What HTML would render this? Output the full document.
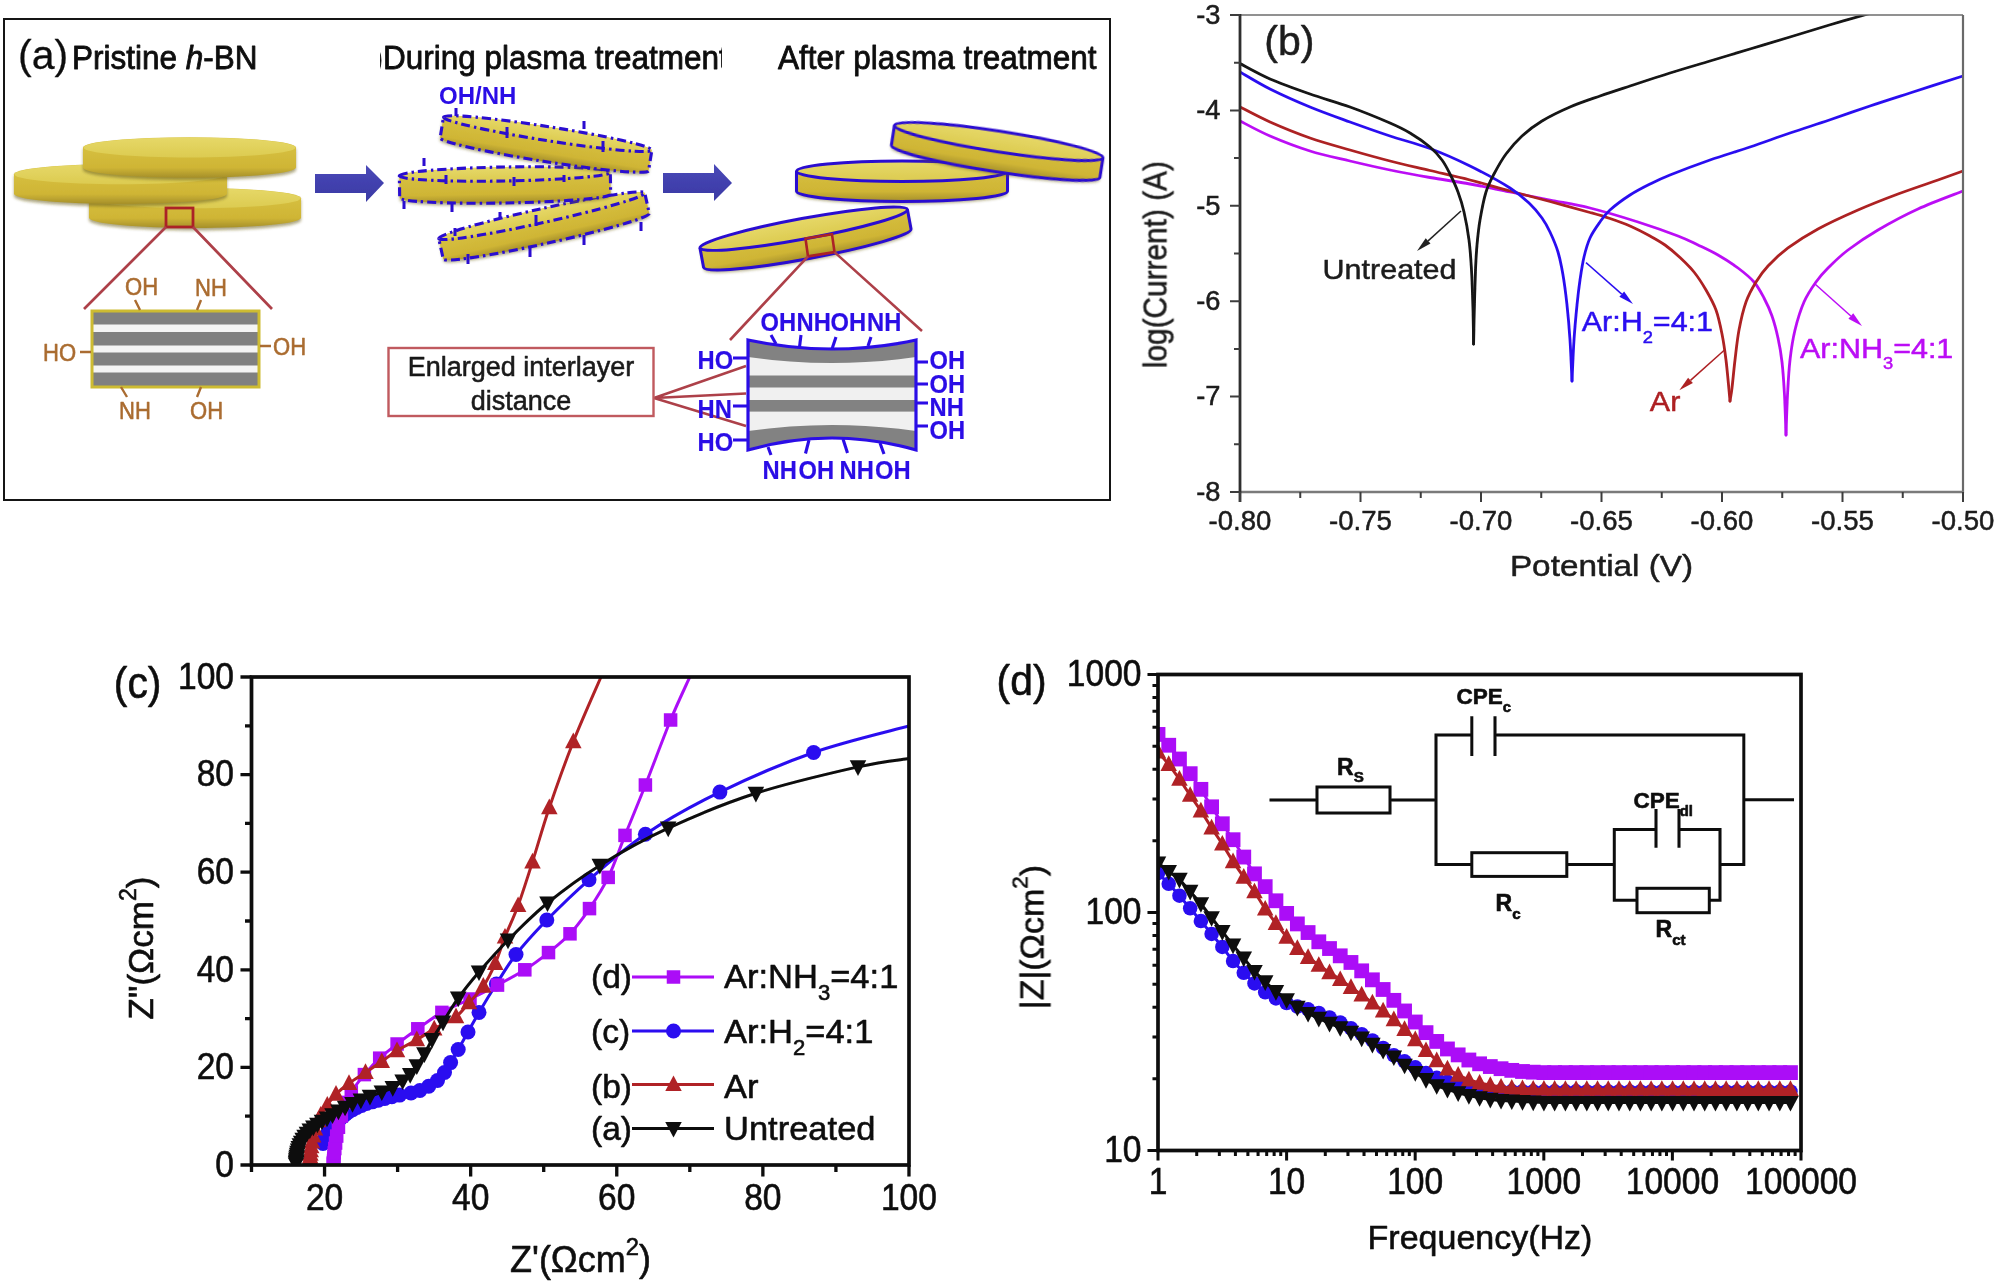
<!DOCTYPE html>
<html lang="en"><head><meta charset="utf-8"><title>Plasma treated h-BN figure</title>
<style>html,body{margin:0;padding:0;background:#fff}svg{display:block}text{font-family:'Liberation Sans', Arial, Helvetica, sans-serif}</style></head><body>
<svg width="1998" height="1283" viewBox="0 0 1998 1283">
<rect width="1998" height="1283" fill="#fff"/>
<defs>
<linearGradient id="gside" x1="0" y1="0" x2="0" y2="1">
<stop offset="0" stop-color="#d9c444"/><stop offset="0.75" stop-color="#cfb535"/><stop offset="1" stop-color="#a58f2a"/>
</linearGradient>
<linearGradient id="gtop" x1="0" y1="0" x2="0" y2="1">
<stop offset="0" stop-color="#e6d868"/><stop offset="1" stop-color="#dccb50"/>
</linearGradient>
<linearGradient id="garrow" x1="0" y1="0" x2="0" y2="1">
<stop offset="0" stop-color="#4a49b8"/><stop offset="1" stop-color="#3a39a4"/>
</linearGradient>
<filter id="soft" x="-5%" y="-5%" width="110%" height="110%"><feGaussianBlur stdDeviation="0.6"/></filter>
<filter id="soft2" x="-5%" y="-5%" width="110%" height="110%"><feGaussianBlur stdDeviation="0.45"/></filter>
<filter id="shadow" x="-10%" y="-30%" width="120%" height="180%"><feGaussianBlur stdDeviation="1.6"/></filter>
</defs>
<g id="panelA">
<rect x="4" y="19" width="1106" height="481" fill="#fff" stroke="#151515" stroke-width="2"/>
<g filter="url(#soft)">
<g transform="rotate(0 195 208)">
<path d="M89 198.25A106 10.3 0 0 1 301 198.25L301 217.75A106 10.3 0 0 1 89 217.75Z" transform="translate(0 2.5)" fill="#6b5e1c" opacity="0.55" filter="url(#shadow)"/>
<path d="M89 198.25A106 10.3 0 0 1 301 198.25L301 217.75A106 10.3 0 0 1 89 217.75Z" fill="url(#gside)"/>
<ellipse cx="195" cy="198.25" rx="105.5" ry="10" fill="url(#gtop)"/>
</g>
<g transform="rotate(0 120.5 184)">
<path d="M14 174.25A106.5 10.3 0 0 1 227 174.25L227 193.75A106.5 10.3 0 0 1 14 193.75Z" transform="translate(0 2.5)" fill="#6b5e1c" opacity="0.55" filter="url(#shadow)"/>
<path d="M14 174.25A106.5 10.3 0 0 1 227 174.25L227 193.75A106.5 10.3 0 0 1 14 193.75Z" fill="url(#gside)"/>
<ellipse cx="120.5" cy="174.25" rx="106" ry="10" fill="url(#gtop)"/>
</g>
<g transform="rotate(0 189.5 157.5)">
<path d="M83 147.5A106.5 10.3 0 0 1 296 147.5L296 167.5A106.5 10.3 0 0 1 83 167.5Z" transform="translate(0 2.5)" fill="#6b5e1c" opacity="0.55" filter="url(#shadow)"/>
<path d="M83 147.5A106.5 10.3 0 0 1 296 147.5L296 167.5A106.5 10.3 0 0 1 83 167.5Z" fill="url(#gside)"/>
<ellipse cx="189.5" cy="147.5" rx="106" ry="10" fill="url(#gtop)"/>
</g>
<rect x="166" y="208" width="27" height="19" fill="none" stroke="#ab2328" stroke-width="2.8"/>
<path d="M166 227L84 309M193 227L272 309" stroke="#ad4048" stroke-width="2.7" fill="none"/>
<rect x="92" y="311" width="167" height="76" fill="#808080"/>
<rect x="93" y="324.5" width="165" height="7.5" fill="#f4f4f4"/>
<rect x="93" y="345.5" width="165" height="7" fill="#f4f4f4"/>
<rect x="93" y="365.5" width="165" height="7" fill="#f4f4f4"/>
<rect x="92" y="311" width="167" height="76" fill="none" stroke="#cdbb30" stroke-width="3"/>
<path d="M135 300L140 310M201 300L197 310M80 352L91 352M260 346L271 346M121 387L127 397M201 387L197 397" stroke="#aa6c30" stroke-width="2.4" fill="none"/>
<text transform="translate(125 295) scale(0.92 1)" font-size="24" fill="#aa6c30" text-anchor="start" font-weight="normal"  stroke="#aa6c30" stroke-width="0.55" stroke-linejoin="round">OH</text>
<text transform="translate(195 296) scale(0.92 1)" font-size="24" fill="#aa6c30" text-anchor="start" font-weight="normal"  stroke="#aa6c30" stroke-width="0.55" stroke-linejoin="round">NH</text>
<text transform="translate(43 361) scale(0.92 1)" font-size="24" fill="#aa6c30" text-anchor="start" font-weight="normal"  stroke="#aa6c30" stroke-width="0.55" stroke-linejoin="round">HO</text>
<text transform="translate(273 355) scale(0.92 1)" font-size="24" fill="#aa6c30" text-anchor="start" font-weight="normal"  stroke="#aa6c30" stroke-width="0.55" stroke-linejoin="round">OH</text>
<text transform="translate(119 419) scale(0.92 1)" font-size="24" fill="#aa6c30" text-anchor="start" font-weight="normal"  stroke="#aa6c30" stroke-width="0.55" stroke-linejoin="round">NH</text>
<text transform="translate(190 419) scale(0.92 1)" font-size="24" fill="#aa6c30" text-anchor="start" font-weight="normal"  stroke="#aa6c30" stroke-width="0.55" stroke-linejoin="round">OH</text>
<polygon points="315,174 366,174 366,165 384,183 366,202 366,193 315,193" fill="url(#garrow)"/>
<polygon points="663,173 714,173 714,164 732,183 714,201 714,193 663,193" fill="url(#garrow)"/>
<g transform="rotate(-12.5 544 226)">
<path d="M438.5 215.5A105.5 7 0 0 1 649.5 215.5L649.5 236.5A105.5 7 0 0 1 438.5 236.5Z" transform="translate(0 2.5)" fill="#6b5e1c" opacity="0.55" filter="url(#shadow)"/>
<path d="M438.5 215.5A105.5 7 0 0 1 649.5 215.5L649.5 236.5A105.5 7 0 0 1 438.5 236.5Z" fill="url(#gside)"/>
<ellipse cx="544" cy="215.5" rx="105" ry="6.7" fill="url(#gtop)"/>
<path d="M438.5 215.5A105.5 7 0 0 1 649.5 215.5L649.5 236.5A105.5 7 0 0 1 438.5 236.5Z" fill="none" stroke="#2a0cd0" stroke-width="3.1" stroke-dasharray="9 4 2.5 4" stroke-linejoin="round"/>
<path d="M438.5 215.5A105.5 7 0 0 0 649.5 215.5" fill="none" stroke="#2a0cd0" stroke-width="3.1" stroke-dasharray="9 4 2.5 4"/>
</g>
<g transform="rotate(-1 505 185)">
<path d="M399.5 174A105.5 7 0 0 1 610.5 174L610.5 196A105.5 7 0 0 1 399.5 196Z" transform="translate(0 2.5)" fill="#6b5e1c" opacity="0.55" filter="url(#shadow)"/>
<path d="M399.5 174A105.5 7 0 0 1 610.5 174L610.5 196A105.5 7 0 0 1 399.5 196Z" fill="url(#gside)"/>
<ellipse cx="505" cy="174" rx="105" ry="6.7" fill="url(#gtop)"/>
<path d="M399.5 174A105.5 7 0 0 1 610.5 174L610.5 196A105.5 7 0 0 1 399.5 196Z" fill="none" stroke="#2a0cd0" stroke-width="3.1" stroke-dasharray="9 4 2.5 4" stroke-linejoin="round"/>
<path d="M399.5 174A105.5 7 0 0 0 610.5 174" fill="none" stroke="#2a0cd0" stroke-width="3.1" stroke-dasharray="9 4 2.5 4"/>
</g>
<g transform="rotate(9 546 144)">
<path d="M440.5 133.5A105.5 7 0 0 1 651.5 133.5L651.5 154.5A105.5 7 0 0 1 440.5 154.5Z" transform="translate(0 2.5)" fill="#6b5e1c" opacity="0.55" filter="url(#shadow)"/>
<path d="M440.5 133.5A105.5 7 0 0 1 651.5 133.5L651.5 154.5A105.5 7 0 0 1 440.5 154.5Z" fill="url(#gside)"/>
<ellipse cx="546" cy="133.5" rx="105" ry="6.7" fill="url(#gtop)"/>
<path d="M440.5 133.5A105.5 7 0 0 1 651.5 133.5L651.5 154.5A105.5 7 0 0 1 440.5 154.5Z" fill="none" stroke="#2a0cd0" stroke-width="3.1" stroke-dasharray="9 4 2.5 4" stroke-linejoin="round"/>
<path d="M440.5 133.5A105.5 7 0 0 0 651.5 133.5" fill="none" stroke="#2a0cd0" stroke-width="3.1" stroke-dasharray="9 4 2.5 4"/>
</g>
<path d="M456 108L456 116M584 121L584 129M507 127L507 138M603 141L603 152M424 158L424 166M446 175L446 184M514 177L514 186M564 175L564 182M404 201L404 209M452 203L452 212M500 212L500 219M536 215L536 226M455 228L455 236M468 254L468 264M530 247L530 257M584 235L584 245M641 222L641 231" stroke="#2a0cd0" stroke-width="3" fill="none"/>
<text transform="translate(439 104) scale(0.98 1)" font-size="24.5" fill="#2c0ce6" text-anchor="start" font-weight="bold" >OH/NH</text>
<g transform="rotate(-10.5 805.5 238.5)">
<path d="M700 228.5A105.5 10.3 0 0 1 911 228.5L911 248.5A105.5 10.3 0 0 1 700 248.5Z" transform="translate(0 2.5)" fill="#6b5e1c" opacity="0.55" filter="url(#shadow)"/>
<path d="M700 228.5A105.5 10.3 0 0 1 911 228.5L911 248.5A105.5 10.3 0 0 1 700 248.5Z" fill="url(#gside)"/>
<ellipse cx="805.5" cy="228.5" rx="105" ry="10" fill="url(#gtop)"/>
<path d="M700 228.5A105.5 10.3 0 0 1 911 228.5L911 248.5A105.5 10.3 0 0 1 700 248.5Z" fill="none" stroke="#2a0cd0" stroke-width="3" stroke-linejoin="round"/>
<path d="M700 228.5A105.5 10.3 0 0 0 911 228.5" fill="none" stroke="#2a0cd0" stroke-width="3"/>
</g>
<g transform="rotate(0 902 181.2)">
<path d="M796.5 171.2A105.5 10.3 0 0 1 1007.5 171.2L1007.5 191.2A105.5 10.3 0 0 1 796.5 191.2Z" transform="translate(0 2.5)" fill="#6b5e1c" opacity="0.55" filter="url(#shadow)"/>
<path d="M796.5 171.2A105.5 10.3 0 0 1 1007.5 171.2L1007.5 191.2A105.5 10.3 0 0 1 796.5 191.2Z" fill="url(#gside)"/>
<ellipse cx="902" cy="171.2" rx="105" ry="10" fill="url(#gtop)"/>
<path d="M796.5 171.2A105.5 10.3 0 0 1 1007.5 171.2L1007.5 191.2A105.5 10.3 0 0 1 796.5 191.2Z" fill="none" stroke="#2a0cd0" stroke-width="3" stroke-linejoin="round"/>
<path d="M796.5 171.2A105.5 10.3 0 0 0 1007.5 171.2" fill="none" stroke="#2a0cd0" stroke-width="3"/>
</g>
<g transform="rotate(8.8 997.2 151.4)">
<path d="M891.7 141.4A105.5 10.3 0 0 1 1102.7 141.4L1102.7 161.4A105.5 10.3 0 0 1 891.7 161.4Z" transform="translate(0 2.5)" fill="#6b5e1c" opacity="0.55" filter="url(#shadow)"/>
<path d="M891.7 141.4A105.5 10.3 0 0 1 1102.7 141.4L1102.7 161.4A105.5 10.3 0 0 1 891.7 161.4Z" fill="url(#gside)"/>
<ellipse cx="997.2" cy="141.4" rx="105" ry="10" fill="url(#gtop)"/>
<path d="M891.7 141.4A105.5 10.3 0 0 1 1102.7 141.4L1102.7 161.4A105.5 10.3 0 0 1 891.7 161.4Z" fill="none" stroke="#2a0cd0" stroke-width="3" stroke-linejoin="round"/>
<path d="M891.7 141.4A105.5 10.3 0 0 0 1102.7 141.4" fill="none" stroke="#2a0cd0" stroke-width="3"/>
</g>
<polygon points="805.5,238.5 832,234.2 834.5,252.1 808,256.4" fill="none" stroke="#ab2328" stroke-width="2.6"/>
<path d="M808 256.4L730 340M834.5 252.1L922 331" stroke="#ad4048" stroke-width="2.6" fill="none"/>
<path d="M654 398L746 366M654 398L746 393.5M654 398L746 426" stroke="#ad4048" stroke-width="2.4" fill="none"/>
<rect x="388.5" y="348" width="265" height="68" fill="#fff" stroke="#c05a5e" stroke-width="2.4"/>
<text transform="translate(521 375.5)" font-size="27" fill="#1a1a1a" text-anchor="middle" font-weight="normal"  stroke="#1a1a1a" stroke-width="0.55" stroke-linejoin="round">Enlarged interlayer</text>
<text transform="translate(521 409.5)" font-size="27" fill="#1a1a1a" text-anchor="middle" font-weight="normal"  stroke="#1a1a1a" stroke-width="0.55" stroke-linejoin="round">distance</text>
<clipPath id="clipE"><path d="M748 340Q832 358 916 340L916 450Q832 426 748 450Z"/></clipPath>
<g clip-path="url(#clipE)">
<rect x="740" y="330" width="185" height="130" fill="#f0f0f0"/>
<path d="M748 326Q832 358 916 326L916 357Q832 369 748 357Z" fill="#828282"/>
<path d="M748 464Q832 426 916 464L916 431Q832 419 748 431Z" fill="#828282"/>
<rect x="740" y="375.5" width="185" height="12" fill="#828282"/>
<rect x="740" y="400" width="185" height="11.6" fill="#828282"/>
</g>
<path d="M748 340Q832 358 916 340L916 450Q832 426 748 450Z" fill="none" stroke="#2c0ce6" stroke-width="3.2" stroke-linejoin="miter"/>
<path d="M771 335L776 344M801 335L799.5 347M836 337L832 349M871 337L868 346M768 447L771 455M809 440L805.5 453.5M843 439L847.5 453M880 443L884 454M733 358L748 358M733 406L748 406M733 440L748 440M916 362L928 362M916 384L928 384M916 403L928 403M916 426L928 426" stroke="#2c0ce6" stroke-width="3.1" fill="none"/>
<text transform="translate(760.5 331.3) scale(0.95 1)" font-size="25" fill="#2c0ce6" text-anchor="start" font-weight="bold"  stroke="#2c0ce6" stroke-width="0.2" stroke-linejoin="round">OH</text>
<text transform="translate(796.5 331.3) scale(0.95 1)" font-size="25" fill="#2c0ce6" text-anchor="start" font-weight="bold"  stroke="#2c0ce6" stroke-width="0.2" stroke-linejoin="round">NH</text>
<text transform="translate(830.5 331.3) scale(0.95 1)" font-size="25" fill="#2c0ce6" text-anchor="start" font-weight="bold"  stroke="#2c0ce6" stroke-width="0.2" stroke-linejoin="round">OH</text>
<text transform="translate(867 331.3) scale(0.95 1)" font-size="25" fill="#2c0ce6" text-anchor="start" font-weight="bold"  stroke="#2c0ce6" stroke-width="0.2" stroke-linejoin="round">NH</text>
<text transform="translate(762.5 479.3) scale(0.95 1)" font-size="25" fill="#2c0ce6" text-anchor="start" font-weight="bold"  stroke="#2c0ce6" stroke-width="0.2" stroke-linejoin="round">NH</text>
<text transform="translate(798.5 479.3) scale(0.95 1)" font-size="25" fill="#2c0ce6" text-anchor="start" font-weight="bold"  stroke="#2c0ce6" stroke-width="0.2" stroke-linejoin="round">OH</text>
<text transform="translate(839.5 479.3) scale(0.95 1)" font-size="25" fill="#2c0ce6" text-anchor="start" font-weight="bold"  stroke="#2c0ce6" stroke-width="0.2" stroke-linejoin="round">NH</text>
<text transform="translate(875 479.3) scale(0.95 1)" font-size="25" fill="#2c0ce6" text-anchor="start" font-weight="bold"  stroke="#2c0ce6" stroke-width="0.2" stroke-linejoin="round">OH</text>
<text transform="translate(697.5 368.8) scale(0.95 1)" font-size="25" fill="#2c0ce6" text-anchor="start" font-weight="bold"  stroke="#2c0ce6" stroke-width="0.2" stroke-linejoin="round">HO</text>
<text transform="translate(697.5 418.3) scale(0.95 1)" font-size="25" fill="#2c0ce6" text-anchor="start" font-weight="bold"  stroke="#2c0ce6" stroke-width="0.2" stroke-linejoin="round">HN</text>
<text transform="translate(697.5 450.8) scale(0.95 1)" font-size="25" fill="#2c0ce6" text-anchor="start" font-weight="bold"  stroke="#2c0ce6" stroke-width="0.2" stroke-linejoin="round">HO</text>
<text transform="translate(929.5 369.3) scale(0.95 1)" font-size="25" fill="#2c0ce6" text-anchor="start" font-weight="bold"  stroke="#2c0ce6" stroke-width="0.2" stroke-linejoin="round">OH</text>
<text transform="translate(929.5 393.3) scale(0.95 1)" font-size="25" fill="#2c0ce6" text-anchor="start" font-weight="bold"  stroke="#2c0ce6" stroke-width="0.2" stroke-linejoin="round">OH</text>
<text transform="translate(929.5 415.8) scale(0.95 1)" font-size="25" fill="#2c0ce6" text-anchor="start" font-weight="bold"  stroke="#2c0ce6" stroke-width="0.2" stroke-linejoin="round">NH</text>
<text transform="translate(929.5 439.3) scale(0.95 1)" font-size="25" fill="#2c0ce6" text-anchor="start" font-weight="bold"  stroke="#2c0ce6" stroke-width="0.2" stroke-linejoin="round">OH</text>
</g>
<g filter="url(#soft2)">
<text transform="translate(18 69)" font-size="41" fill="#111" text-anchor="start" font-weight="normal"  stroke="#111" stroke-width="0.3" stroke-linejoin="round">(a)</text>
<text transform="translate(72 69) scale(0.94 1)" font-size="33.5" fill="#111" text-anchor="start" font-weight="normal"  stroke="#111" stroke-width="0.85" stroke-linejoin="round">Pristine <tspan font-style="italic">h</tspan>-BN</text>
<clipPath id="clipT"><rect x="380" y="30" width="342" height="60"/></clipPath>
<g clip-path="url(#clipT)">
<text transform="translate(372.5 69) scale(0.94 1)" font-size="33.5" fill="#111" text-anchor="start" font-weight="normal"  stroke="#111" stroke-width="0.85" stroke-linejoin="round">)During plasma treatment</text>
</g>
<text transform="translate(778 69) scale(0.94 1)" font-size="33.5" fill="#111" text-anchor="start" font-weight="normal"  stroke="#111" stroke-width="0.85" stroke-linejoin="round">After plasma treatment</text>
</g>
</g>
<g id="panelB" filter="url(#soft2)">
<clipPath id="clipB"><rect x="1240" y="15" width="724" height="477"/></clipPath>
<g clip-path="url(#clipB)" fill="none" stroke-width="2.8" stroke-linejoin="round" stroke-linecap="round">
<path d="M1240 121C1245 123.5 1258.33 131 1270 136C1281.67 141 1296.67 146.83 1310 151C1323.33 155.17 1336.67 157.83 1350 161C1363.33 164.17 1376.67 167.25 1390 170C1403.33 172.75 1416.67 175.17 1430 177.5C1443.33 179.83 1456.67 181.58 1470 184C1483.33 186.42 1496.67 189.33 1510 192C1523.33 194.67 1536.67 197.33 1550 200C1563.33 202.67 1575.33 204.33 1590 208C1604.67 211.67 1623.33 217.33 1638 222C1652.67 226.67 1668 232.17 1678 236C1688 239.83 1691.33 241.83 1698 245C1704.67 248.17 1711.33 251.17 1718 255C1724.67 258.83 1732 263.5 1738 268C1744 272.5 1749.67 277 1754 282C1758.33 287 1761 292.33 1764 298C1767 303.67 1769.67 309.33 1772 316C1774.33 322.67 1776.33 330.33 1778 338C1779.67 345.67 1780.92 352.5 1782 362C1783.08 371.5 1783.83 382.83 1784.5 395C1785.17 407.17 1785.75 428.33 1786 435" stroke="#bb0cf5"/>
<path d="M1786 435C1786.25 428.33 1786.83 407.5 1787.5 395C1788.17 382.5 1788.75 370.83 1790 360C1791.25 349.17 1792.67 339.67 1795 330C1797.33 320.33 1800.5 310 1804 302C1807.5 294 1812 287.67 1816 282C1820 276.33 1822.67 273.33 1828 268C1833.33 262.67 1839.67 256.33 1848 250C1856.33 243.67 1866.33 236.83 1878 230C1889.67 223.17 1903.83 215.5 1918 209C1932.17 202.5 1955.5 194 1963 191" stroke="#bb0cf5"/>
<path d="M1240 107C1245 109.5 1258.33 116.83 1270 122C1281.67 127.17 1296.67 133.33 1310 138C1323.33 142.67 1336.67 146.17 1350 150C1363.33 153.83 1376.67 157.58 1390 161C1403.33 164.42 1416.67 167.33 1430 170.5C1443.33 173.67 1456.67 176.58 1470 180C1483.33 183.42 1496.67 187.42 1510 191C1523.33 194.58 1536.67 197.92 1550 201.5C1563.33 205.08 1580 209.67 1590 212.5C1600 215.33 1603.33 216.25 1610 218.5C1616.67 220.75 1623.33 223.08 1630 226C1636.67 228.92 1644.17 232.83 1650 236C1655.83 239.17 1660 241.42 1665 245C1670 248.58 1675.17 253 1680 257.5C1684.83 262 1689.67 266.58 1694 272C1698.33 277.42 1702.33 283.67 1706 290C1709.67 296.33 1713.33 302.67 1716 310C1718.67 317.33 1720.33 325.67 1722 334C1723.67 342.33 1724.83 350.67 1726 360C1727.17 369.33 1728.33 383.17 1729 390C1729.67 396.83 1729.83 399.17 1730 401" stroke="#ad2024"/>
<path d="M1730 401C1730.33 398.83 1731.17 394.83 1732 388C1732.83 381.17 1733.83 369.67 1735 360C1736.17 350.33 1737.17 339.67 1739 330C1740.83 320.33 1743.17 310 1746 302C1748.83 294 1752.33 288 1756 282C1759.67 276 1762.67 271.67 1768 266C1773.33 260.33 1779.67 254.17 1788 248C1796.33 241.83 1806.33 235.33 1818 229C1829.67 222.67 1844.67 215.83 1858 210C1871.33 204.17 1884.67 199 1898 194C1911.33 189 1927.17 183.83 1938 180C1948.83 176.17 1958.83 172.5 1963 171" stroke="#ad2024"/>
<path d="M1240 72C1245 74.83 1258.33 83.17 1270 89C1281.67 94.83 1296.67 101.5 1310 107C1323.33 112.5 1336.67 117.17 1350 122C1363.33 126.83 1376.67 131.58 1390 136C1403.33 140.42 1416.67 143.5 1430 148.5C1443.33 153.5 1456.67 159.42 1470 166C1483.33 172.58 1500 181.67 1510 188C1520 194.33 1524.67 199 1530 204C1535.33 209 1538.67 213.33 1542 218C1545.33 222.67 1547.33 226.33 1550 232C1552.67 237.67 1555.83 244.83 1558 252C1560.17 259.17 1561.5 266.17 1563 275C1564.5 283.83 1565.83 294.17 1567 305C1568.17 315.83 1569.17 327.33 1570 340C1570.83 352.67 1571.67 374.17 1572 381" stroke="#2a10f0"/>
<path d="M1572 381C1572.33 374.17 1573.17 352.67 1574 340C1574.83 327.33 1576 315 1577 305C1578 295 1578.83 288 1580 280C1581.17 272 1582.33 264 1584 257C1585.67 250 1587.33 243.83 1590 238C1592.67 232.17 1596.67 226.67 1600 222C1603.33 217.33 1605 214.5 1610 210C1615 205.5 1623.33 199.33 1630 195C1636.67 190.67 1643.33 187.33 1650 184C1656.67 180.67 1660 179 1670 175C1680 171 1696.67 164.67 1710 160C1723.33 155.33 1736.67 151.5 1750 147C1763.33 142.5 1776.77 137.5 1790 133C1803.23 128.5 1816.07 124.5 1829.4 120C1842.73 115.5 1856.57 110.5 1870 106C1883.43 101.5 1894.5 98 1910 93C1925.5 88 1954.17 78.83 1963 76" stroke="#2a10f0"/>
<path d="M1240 63.6C1245 66.17 1258.33 73.93 1270 79C1281.67 84.07 1296.67 89.33 1310 94C1323.33 98.67 1336.67 102.17 1350 107C1363.33 111.83 1380 118.67 1390 123C1400 127.33 1403.33 129 1410 133C1416.67 137 1424.67 142.5 1430 147C1435.33 151.5 1438.67 155.5 1442 160C1445.33 164.5 1447.33 168.67 1450 174C1452.67 179.33 1455.67 185.67 1458 192C1460.33 198.33 1462.17 204 1464 212C1465.83 220 1467.75 230.33 1469 240C1470.25 249.67 1470.83 258.33 1471.5 270C1472.17 281.67 1472.65 297.67 1473 310C1473.35 322.33 1473.5 338.33 1473.6 344" stroke="#141414"/>
<path d="M1473.6 344C1473.72 338.33 1473.98 322.33 1474.3 310C1474.62 297.67 1475.05 280.83 1475.5 270C1475.95 259.17 1476.25 253.33 1477 245C1477.75 236.67 1478.5 228.83 1480 220C1481.5 211.17 1483.67 199.67 1486 192C1488.33 184.33 1490.67 180.33 1494 174C1497.33 167.67 1501.33 160.33 1506 154C1510.67 147.67 1516 141.5 1522 136C1528 130.5 1534 125.83 1542 121C1550 116.17 1560.33 111.17 1570 107C1579.67 102.83 1590 99.5 1600 96C1610 92.5 1618.33 89.83 1630 86C1641.67 82.17 1656.67 77.17 1670 73C1683.33 68.83 1696.67 65 1710 61C1723.33 57 1736.67 53 1750 49C1763.33 45 1776.77 41 1790 37C1803.23 33 1816.4 28.83 1829.4 25C1842.4 21.17 1861.57 15.83 1868 14" stroke="#141414"/>
</g>
<path d="M1240 15H1963" fill="none" stroke="#6e6e6e" stroke-width="1.6"/>
<path d="M1963 15V493" fill="none" stroke="#6a6a6a" stroke-width="2.2"/>
<path d="M1240 492H1964" fill="none" stroke="#7a7a7a" stroke-width="2.4"/>
<path d="M1240 14V502" fill="none" stroke="#2e2e2e" stroke-width="2.8"/>
<path d="M1230 15H1240M1234 62.7H1240M1230 110.4H1240M1234 158.1H1240M1230 205.8H1240M1234 253.5H1240M1230 301.2H1240M1234 348.9H1240M1230 396.6H1240M1234 444.3H1240M1230 492H1240M1240 492V502M1300.25 492V498M1360.5 492V502M1420.75 492V498M1481 492V502M1541.25 492V498M1601.5 492V502M1661.75 492V498M1722 492V502M1782.25 492V498M1842.5 492V502M1902.75 492V498M1963 492V502" fill="none" stroke="#3c3c3c" stroke-width="2"/>
<text transform="translate(1220.5 23.8) scale(1.01 1)" font-size="27" fill="#1c1c1c" text-anchor="end" font-weight="normal"  stroke="#1c1c1c" stroke-width="0.5" stroke-linejoin="round">-3</text>
<text transform="translate(1220.5 119.2) scale(1.01 1)" font-size="27" fill="#1c1c1c" text-anchor="end" font-weight="normal"  stroke="#1c1c1c" stroke-width="0.5" stroke-linejoin="round">-4</text>
<text transform="translate(1220.5 214.6) scale(1.01 1)" font-size="27" fill="#1c1c1c" text-anchor="end" font-weight="normal"  stroke="#1c1c1c" stroke-width="0.5" stroke-linejoin="round">-5</text>
<text transform="translate(1220.5 310) scale(1.01 1)" font-size="27" fill="#1c1c1c" text-anchor="end" font-weight="normal"  stroke="#1c1c1c" stroke-width="0.5" stroke-linejoin="round">-6</text>
<text transform="translate(1220.5 405.4) scale(1.01 1)" font-size="27" fill="#1c1c1c" text-anchor="end" font-weight="normal"  stroke="#1c1c1c" stroke-width="0.5" stroke-linejoin="round">-7</text>
<text transform="translate(1220.5 500.8) scale(1.01 1)" font-size="27" fill="#1c1c1c" text-anchor="end" font-weight="normal"  stroke="#1c1c1c" stroke-width="0.5" stroke-linejoin="round">-8</text>
<text transform="translate(1240 529.6) scale(1.02 1)" font-size="27" fill="#1c1c1c" text-anchor="middle" font-weight="normal"  stroke="#1c1c1c" stroke-width="0.5" stroke-linejoin="round">-0.80</text>
<text transform="translate(1360.5 529.6) scale(1.02 1)" font-size="27" fill="#1c1c1c" text-anchor="middle" font-weight="normal"  stroke="#1c1c1c" stroke-width="0.5" stroke-linejoin="round">-0.75</text>
<text transform="translate(1481 529.6) scale(1.02 1)" font-size="27" fill="#1c1c1c" text-anchor="middle" font-weight="normal"  stroke="#1c1c1c" stroke-width="0.5" stroke-linejoin="round">-0.70</text>
<text transform="translate(1601.5 529.6) scale(1.02 1)" font-size="27" fill="#1c1c1c" text-anchor="middle" font-weight="normal"  stroke="#1c1c1c" stroke-width="0.5" stroke-linejoin="round">-0.65</text>
<text transform="translate(1722 529.6) scale(1.02 1)" font-size="27" fill="#1c1c1c" text-anchor="middle" font-weight="normal"  stroke="#1c1c1c" stroke-width="0.5" stroke-linejoin="round">-0.60</text>
<text transform="translate(1842.5 529.6) scale(1.02 1)" font-size="27" fill="#1c1c1c" text-anchor="middle" font-weight="normal"  stroke="#1c1c1c" stroke-width="0.5" stroke-linejoin="round">-0.55</text>
<text transform="translate(1963 529.6) scale(1.02 1)" font-size="27" fill="#1c1c1c" text-anchor="middle" font-weight="normal"  stroke="#1c1c1c" stroke-width="0.5" stroke-linejoin="round">-0.50</text>
<text transform="translate(1601.5 576) scale(1.11 1)" font-size="30" fill="#1c1c1c" text-anchor="middle" font-weight="normal"  stroke="#1c1c1c" stroke-width="0.5" stroke-linejoin="round">Potential (V)</text>
<text transform="translate(1166.5 264.6) rotate(-90) scale(0.89 1)" font-size="33.5" fill="#1c1c1c" text-anchor="middle" font-weight="normal"  stroke="#1c1c1c" stroke-width="0.5" stroke-linejoin="round">log(Current) (A)</text>
<text transform="translate(1264.3 55)" font-size="41" fill="#1c1c1c" text-anchor="start" font-weight="normal"  stroke="#1c1c1c" stroke-width="0.5" stroke-linejoin="round">(b)</text>
<path d="M1461 211L1428.1 240.91" stroke="#222" stroke-width="1.5" fill="none"/>
<polygon points="1417,251 1425.68,238.25 1430.52,243.57" fill="#222"/>
<path d="M1586 262.6L1621.74 294.09" stroke="#2a10f0" stroke-width="1.5" fill="none"/>
<polygon points="1633,304 1619.36,296.79 1624.12,291.38" fill="#2a10f0"/>
<path d="M1724.2 350.3L1690.5 380.32" stroke="#ad2024" stroke-width="1.5" fill="none"/>
<polygon points="1679.3,390.3 1688.11,377.63 1692.89,383.01" fill="#ad2024"/>
<path d="M1815 284L1850.82 316.01" stroke="#bb0cf5" stroke-width="1.5" fill="none"/>
<polygon points="1862,326 1848.42,318.69 1853.21,313.32" fill="#bb0cf5"/>
<text transform="translate(1322.6 279.3) scale(1.07 1)" font-size="28.5" fill="#1c1c1c" text-anchor="start" font-weight="normal"  stroke="#1c1c1c" stroke-width="0.5" stroke-linejoin="round">Untreated</text>
<text transform="translate(1581.7 331.4) scale(1.07 1)" font-size="28.5" fill="#2a10f0" text-anchor="start" font-weight="normal"  stroke="#2a10f0" stroke-width="0.5" stroke-linejoin="round">Ar:H<tspan font-size="60%" dy="0.65em">2</tspan><tspan dy="-0.39em">&#8203;</tspan>=4:1</text>
<text transform="translate(1649.8 411.4) scale(1.07 1)" font-size="28.5" fill="#ad2024" text-anchor="start" font-weight="normal"  stroke="#ad2024" stroke-width="0.5" stroke-linejoin="round">Ar</text>
<text transform="translate(1800 358) scale(1.07 1)" font-size="28.5" fill="#bb0cf5" text-anchor="start" font-weight="normal"  stroke="#bb0cf5" stroke-width="0.5" stroke-linejoin="round">Ar:NH<tspan font-size="60%" dy="0.65em">3</tspan><tspan dy="-0.39em">&#8203;</tspan>=4:1</text>
</g>
<g id="panelC" filter="url(#soft2)">
<clipPath id="clipC"><rect x="251.5" y="677" width="657.5" height="489"/></clipPath>
<g clip-path="url(#clipC)">
<path d="M909 726C893.1 730.42 845.12 741.48 813.6 752.5C782.08 763.52 747.93 778.48 719.9 792.1C691.87 805.72 667.22 819.58 645.4 834.2C623.58 848.82 605.43 865.5 589 879.8C572.57 894.1 558.97 907.55 546.8 920C534.63 932.45 524.4 943.83 516 954.5C507.6 965.17 502.57 974.35 496.4 984C490.23 993.65 483.73 1004.4 479 1012.4C474.27 1020.4 471.47 1025.82 468 1032C464.53 1038.18 461.1 1044.4 458.2 1049.5C455.3 1054.6 452.88 1058.77 450.6 1062.6C448.32 1066.43 446.68 1069.52 444.5 1072.5C442.32 1075.48 440.13 1078.2 437.5 1080.5C434.87 1082.8 431.63 1084.63 428.7 1086.3C425.77 1087.97 422.85 1089.38 419.9 1090.5C416.95 1091.62 414.32 1092.25 411 1093C407.68 1093.75 403.5 1094.33 400 1095C396.5 1095.67 393.5 1096.17 390 1097C386.5 1097.83 382.67 1099 379 1100C375.33 1101 371.67 1101.77 368 1103C364.33 1104.23 360 1106.07 357 1107.4C354 1108.73 352.17 1109.65 350 1111C347.83 1112.35 346 1113.92 344 1115.5C342 1117.08 339.83 1118.75 338 1120.5C336.17 1122.25 334.58 1124.08 333 1126C331.42 1127.92 329.83 1130 328.5 1132C327.17 1134 325.92 1136.08 325 1138C324.08 1139.92 323.33 1142.58 323 1143.5" fill="none" stroke="#2a0cf0" stroke-width="3" stroke-linejoin="round"/>
<circle cx="813.6" cy="752.5" r="7.5" fill="#2a0cf0"/><circle cx="719.9" cy="792.1" r="7.5" fill="#2a0cf0"/><circle cx="645.4" cy="834.2" r="7.5" fill="#2a0cf0"/><circle cx="589" cy="879.8" r="7.5" fill="#2a0cf0"/><circle cx="546.8" cy="920" r="7.5" fill="#2a0cf0"/><circle cx="516" cy="954.5" r="7.5" fill="#2a0cf0"/><circle cx="496.4" cy="984" r="7.5" fill="#2a0cf0"/><circle cx="479" cy="1012.4" r="7.5" fill="#2a0cf0"/><circle cx="468" cy="1032" r="7.5" fill="#2a0cf0"/><circle cx="458.2" cy="1049.5" r="7.5" fill="#2a0cf0"/><circle cx="450.6" cy="1062.6" r="7.5" fill="#2a0cf0"/><circle cx="444.5" cy="1072.5" r="7.5" fill="#2a0cf0"/><circle cx="437.5" cy="1080.5" r="7.5" fill="#2a0cf0"/><circle cx="428.7" cy="1086.3" r="7.5" fill="#2a0cf0"/><circle cx="419.9" cy="1090.5" r="7.5" fill="#2a0cf0"/><circle cx="411" cy="1093" r="7.5" fill="#2a0cf0"/><circle cx="323" cy="1143.5" r="7.5" fill="#2a0cf0"/><circle cx="323.44" cy="1142.28" r="7.5" fill="#2a0cf0"/><circle cx="323.92" cy="1140.97" r="7.5" fill="#2a0cf0"/><circle cx="324.43" cy="1139.56" r="7.5" fill="#2a0cf0"/><circle cx="324.99" cy="1138.04" r="7.5" fill="#2a0cf0"/><circle cx="325.85" cy="1136.54" r="7.5" fill="#2a0cf0"/><circle cx="326.79" cy="1134.94" r="7.5" fill="#2a0cf0"/><circle cx="327.79" cy="1133.21" r="7.5" fill="#2a0cf0"/><circle cx="328.95" cy="1131.4" r="7.5" fill="#2a0cf0"/><circle cx="330.33" cy="1129.56" r="7.5" fill="#2a0cf0"/><circle cx="331.82" cy="1127.58" r="7.5" fill="#2a0cf0"/><circle cx="333.47" cy="1125.49" r="7.5" fill="#2a0cf0"/><circle cx="335.39" cy="1123.37" r="7.5" fill="#2a0cf0"/><circle cx="337.46" cy="1121.1" r="7.5" fill="#2a0cf0"/><circle cx="339.91" cy="1118.91" r="7.5" fill="#2a0cf0"/><circle cx="342.64" cy="1116.64" r="7.5" fill="#2a0cf0"/><circle cx="345.63" cy="1114.28" r="7.5" fill="#2a0cf0"/><circle cx="348.9" cy="1111.82" r="7.5" fill="#2a0cf0"/><circle cx="352.69" cy="1109.62" r="7.5" fill="#2a0cf0"/><circle cx="356.89" cy="1107.46" r="7.5" fill="#2a0cf0"/><circle cx="361.59" cy="1105.56" r="7.5" fill="#2a0cf0"/><circle cx="366.65" cy="1103.54" r="7.5" fill="#2a0cf0"/><circle cx="372.24" cy="1101.84" r="7.5" fill="#2a0cf0"/><circle cx="378.31" cy="1100.19" r="7.5" fill="#2a0cf0"/><circle cx="384.83" cy="1098.41" r="7.5" fill="#2a0cf0"/><circle cx="391.86" cy="1096.63" r="7.5" fill="#2a0cf0"/><circle cx="399.51" cy="1095.1" r="7.5" fill="#2a0cf0"/>
<path d="M689.8 677C686.6 684.17 678 702 670.6 720C663.2 738 653 765.77 645.4 785C637.8 804.23 631.2 820 625 835.4C618.8 850.8 614.12 865.2 608.2 877.4C602.28 889.6 595.87 899.2 589.5 908.6C583.13 918 576.83 926.47 570 933.8C563.17 941.13 556.03 946.6 548.5 952.6C540.97 958.6 533.3 964.38 524.8 969.8C516.3 975.22 506.63 980.23 497.5 985.1C488.37 989.97 479.27 994.45 470 999C460.73 1003.55 450.6 1007.43 441.9 1012.4C433.2 1017.37 425.27 1023.53 417.8 1028.8C410.33 1034.07 403.45 1039.1 397.1 1044C390.75 1048.9 385.15 1053.1 379.7 1058.2C374.25 1063.3 369.13 1068.97 364.4 1074.6C359.67 1080.23 354.62 1086.77 351.3 1092C347.98 1097.23 346.47 1101 344.5 1106C342.53 1111 340.87 1116.67 339.5 1122C338.13 1127.33 337.17 1133 336.3 1138C335.43 1143 334.8 1147.67 334.3 1152C333.8 1156.33 333.47 1162 333.3 1164" fill="none" stroke="#ab0cf7" stroke-width="3" stroke-linejoin="round"/>
<rect x="663.85" y="713.25" width="13.5" height="13.5" fill="#ab0cf7"/><rect x="638.65" y="778.25" width="13.5" height="13.5" fill="#ab0cf7"/><rect x="618.25" y="828.65" width="13.5" height="13.5" fill="#ab0cf7"/><rect x="601.45" y="870.65" width="13.5" height="13.5" fill="#ab0cf7"/><rect x="582.75" y="901.85" width="13.5" height="13.5" fill="#ab0cf7"/><rect x="563.25" y="927.05" width="13.5" height="13.5" fill="#ab0cf7"/><rect x="541.75" y="945.85" width="13.5" height="13.5" fill="#ab0cf7"/><rect x="518.05" y="963.05" width="13.5" height="13.5" fill="#ab0cf7"/><rect x="490.75" y="978.35" width="13.5" height="13.5" fill="#ab0cf7"/><rect x="463.25" y="992.25" width="13.5" height="13.5" fill="#ab0cf7"/><rect x="435.15" y="1005.65" width="13.5" height="13.5" fill="#ab0cf7"/><rect x="411.05" y="1022.05" width="13.5" height="13.5" fill="#ab0cf7"/><rect x="390.35" y="1037.25" width="13.5" height="13.5" fill="#ab0cf7"/><rect x="372.95" y="1051.45" width="13.5" height="13.5" fill="#ab0cf7"/><rect x="357.65" y="1067.85" width="13.5" height="13.5" fill="#ab0cf7"/><rect x="344.55" y="1085.25" width="13.5" height="13.5" fill="#ab0cf7"/><rect x="326.55" y="1157.25" width="13.5" height="13.5" fill="#ab0cf7"/><rect x="326.66" y="1155.95" width="13.5" height="13.5" fill="#ab0cf7"/><rect x="326.8" y="1154.3" width="13.5" height="13.5" fill="#ab0cf7"/><rect x="326.97" y="1152.2" width="13.5" height="13.5" fill="#ab0cf7"/><rect x="327.19" y="1149.53" width="13.5" height="13.5" fill="#ab0cf7"/><rect x="327.48" y="1146.12" width="13.5" height="13.5" fill="#ab0cf7"/><rect x="328.04" y="1141.8" width="13.5" height="13.5" fill="#ab0cf7"/><rect x="328.83" y="1136.3" width="13.5" height="13.5" fill="#ab0cf7"/><rect x="329.94" y="1129.32" width="13.5" height="13.5" fill="#ab0cf7"/><rect x="331.7" y="1120.49" width="13.5" height="13.5" fill="#ab0cf7"/><rect x="334.58" y="1109.4" width="13.5" height="13.5" fill="#ab0cf7"/><rect x="339.48" y="1095.68" width="13.5" height="13.5" fill="#ab0cf7"/>
<path d="M601 677C596.38 687.78 581.92 719.92 573.3 741.7C564.68 763.48 556.1 787.68 549.3 807.7C542.5 827.72 537.7 845.5 532.5 861.8C527.3 878.1 522.68 892.97 518.1 905.5C513.52 918.03 508.8 927.37 505 937C501.2 946.63 498.92 955.1 495.3 963.3C491.68 971.5 487.68 979.65 483.3 986.2C478.92 992.75 473.55 997.52 469 1002.6C464.45 1007.68 461.8 1012.33 456 1016.7C450.2 1021.07 440.73 1024.97 434.2 1028.8C427.67 1032.63 423 1036.07 416.8 1039.7C410.6 1043.33 402.83 1046.97 397 1050.6C391.17 1054.23 387.05 1057.87 381.8 1061.5C376.55 1065.13 370.97 1068.77 365.5 1072.4C360.03 1076.03 353.92 1079.67 349 1083.3C344.08 1086.93 339.62 1090.58 336 1094.2C332.38 1097.82 329.85 1101.53 327.3 1105C324.75 1108.47 322.42 1112 320.7 1115C318.98 1118 318.08 1120.28 317 1123C315.92 1125.72 314.98 1128.47 314.2 1131.3C313.42 1134.13 312.83 1137.22 312.3 1140C311.77 1142.78 311.35 1145.33 311 1148C310.65 1150.67 310.4 1153.33 310.2 1156C310 1158.67 309.87 1162.67 309.8 1164" fill="none" stroke="#b02226" stroke-width="3" stroke-linejoin="round"/>
<polygon points="573.3,732.61 565.05,748.28 581.55,748.28" fill="#b02226"/><polygon points="549.3,798.61 541.05,814.28 557.55,814.28" fill="#b02226"/><polygon points="532.5,852.71 524.25,868.38 540.75,868.38" fill="#b02226"/><polygon points="518.1,896.41 509.85,912.08 526.35,912.08" fill="#b02226"/><polygon points="505,927.91 496.75,943.58 513.25,943.58" fill="#b02226"/><polygon points="495.3,954.21 487.05,969.88 503.55,969.88" fill="#b02226"/><polygon points="483.3,977.11 475.05,992.78 491.55,992.78" fill="#b02226"/><polygon points="469,993.51 460.75,1009.18 477.25,1009.18" fill="#b02226"/><polygon points="456,1007.61 447.75,1023.28 464.25,1023.28" fill="#b02226"/><polygon points="434.2,1019.71 425.95,1035.38 442.45,1035.38" fill="#b02226"/><polygon points="416.8,1030.61 408.55,1046.28 425.05,1046.28" fill="#b02226"/><polygon points="397,1041.51 388.75,1057.18 405.25,1057.18" fill="#b02226"/><polygon points="381.8,1052.41 373.55,1068.08 390.05,1068.08" fill="#b02226"/><polygon points="365.5,1063.31 357.25,1078.98 373.75,1078.98" fill="#b02226"/><polygon points="349,1074.21 340.75,1089.88 357.25,1089.88" fill="#b02226"/><polygon points="336,1085.11 327.75,1100.78 344.25,1100.78" fill="#b02226"/><polygon points="327.3,1095.91 319.05,1111.58 335.55,1111.58" fill="#b02226"/><polygon points="320.7,1105.91 312.45,1121.58 328.95,1121.58" fill="#b02226"/><polygon points="309.8,1154.91 301.55,1170.58 318.05,1170.58" fill="#b02226"/><polygon points="309.86,1153.61 301.61,1169.29 318.11,1169.29" fill="#b02226"/><polygon points="309.94,1152.04 301.69,1167.71 318.19,1167.71" fill="#b02226"/><polygon points="310.04,1150.13 301.79,1165.81 318.29,1165.81" fill="#b02226"/><polygon points="310.15,1147.83 301.9,1163.5 318.4,1163.5" fill="#b02226"/><polygon points="310.39,1145.04 302.14,1160.72 318.64,1160.72" fill="#b02226"/><polygon points="310.72,1141.67 302.47,1157.35 318.97,1157.35" fill="#b02226"/><polygon points="311.21,1137.61 302.96,1153.28 319.46,1153.28" fill="#b02226"/><polygon points="312.01,1132.71 303.76,1148.38 320.26,1148.38" fill="#b02226"/><polygon points="313.19,1126.81 304.94,1142.49 321.44,1142.49" fill="#b02226"/><polygon points="315.02,1119.78 306.77,1135.45 323.27,1135.45" fill="#b02226"/><polygon points="318.1,1111.53 309.85,1127.21 326.35,1127.21" fill="#b02226"/>
<path d="M909 758.5C900.5 759.9 883.52 761.1 858 766.9C832.48 772.7 787.53 783.08 755.9 793.3C724.27 803.52 694.22 816.18 668.2 828.2C642.18 840.22 619.92 852.93 599.8 865.4C579.68 877.87 562.8 890.53 547.5 903C532.2 915.47 519.42 928.7 508 940.2C496.58 951.7 487.3 962.33 479 972C470.7 981.67 464.2 989.83 458.2 998.2C452.2 1006.57 447.37 1015.28 443 1022.2C438.63 1029.12 435.1 1034.43 432 1039.7C428.9 1044.97 426.93 1049.45 424.4 1053.8C421.87 1058.15 419.17 1062.33 416.8 1065.8C414.43 1069.27 412.57 1072.07 410.2 1074.6C407.83 1077.13 405.5 1078.82 402.6 1081C399.7 1083.18 396.27 1085.87 392.8 1087.7C389.33 1089.53 385.43 1090.62 381.8 1092C378.17 1093.38 374.63 1094.58 371 1096C367.37 1097.42 363.67 1099 360 1100.5C356.33 1102 352.58 1103.25 349 1105C345.42 1106.75 341.83 1109 338.5 1111C335.17 1113 331.83 1115.25 329 1117C326.17 1118.75 323.75 1120.08 321.5 1121.5C319.25 1122.92 317.42 1124.12 315.5 1125.5C313.58 1126.88 311.67 1128.25 310 1129.8C308.33 1131.35 306.83 1133.02 305.5 1134.8C304.17 1136.58 303.08 1138.53 302 1140.5C300.92 1142.47 299.78 1144.52 299 1146.6C298.22 1148.68 297.75 1150.93 297.3 1153C296.85 1155.07 296.52 1157.17 296.3 1159C296.08 1160.83 296.05 1163.17 296 1164" fill="none" stroke="#0a0a0a" stroke-width="3" stroke-linejoin="round"/>
<polygon points="858,775.99 849.75,760.32 866.25,760.32" fill="#0a0a0a"/><polygon points="755.9,802.39 747.65,786.72 764.15,786.72" fill="#0a0a0a"/><polygon points="668.2,837.29 659.95,821.62 676.45,821.62" fill="#0a0a0a"/><polygon points="599.8,874.49 591.55,858.82 608.05,858.82" fill="#0a0a0a"/><polygon points="547.5,912.09 539.25,896.42 555.75,896.42" fill="#0a0a0a"/><polygon points="508,949.29 499.75,933.62 516.25,933.62" fill="#0a0a0a"/><polygon points="479,981.09 470.75,965.42 487.25,965.42" fill="#0a0a0a"/><polygon points="458.2,1007.29 449.95,991.62 466.45,991.62" fill="#0a0a0a"/><polygon points="443,1031.29 434.75,1015.62 451.25,1015.62" fill="#0a0a0a"/><polygon points="432,1048.79 423.75,1033.12 440.25,1033.12" fill="#0a0a0a"/><polygon points="424.4,1062.89 416.15,1047.22 432.65,1047.22" fill="#0a0a0a"/><polygon points="416.8,1074.89 408.55,1059.22 425.05,1059.22" fill="#0a0a0a"/><polygon points="410.2,1083.69 401.95,1068.02 418.45,1068.02" fill="#0a0a0a"/><polygon points="402.6,1090.09 394.35,1074.42 410.85,1074.42" fill="#0a0a0a"/><polygon points="392.8,1096.79 384.55,1081.12 401.05,1081.12" fill="#0a0a0a"/><polygon points="381.8,1101.09 373.55,1085.42 390.05,1085.42" fill="#0a0a0a"/><polygon points="296,1173.09 287.75,1157.42 304.25,1157.42" fill="#0a0a0a"/><polygon points="296.08,1171.79 287.83,1156.12 304.33,1156.12" fill="#0a0a0a"/><polygon points="296.16,1170.38 287.91,1154.71 304.41,1154.71" fill="#0a0a0a"/><polygon points="296.25,1168.85 288,1153.17 304.5,1153.17" fill="#0a0a0a"/><polygon points="296.45,1167.19 288.2,1151.51 304.7,1151.51" fill="#0a0a0a"/><polygon points="296.75,1165.39 288.5,1149.71 305,1149.71" fill="#0a0a0a"/><polygon points="297.08,1163.43 288.83,1147.76 305.33,1147.76" fill="#0a0a0a"/><polygon points="297.5,1161.32 289.25,1145.65 305.75,1145.65" fill="#0a0a0a"/><polygon points="298.11,1159.06 289.86,1143.38 306.36,1143.38" fill="#0a0a0a"/><polygon points="298.76,1156.59 290.51,1140.92 307.01,1140.92" fill="#0a0a0a"/><polygon points="299.81,1154.03 291.56,1138.36 308.06,1138.36" fill="#0a0a0a"/><polygon points="301.15,1151.32 292.9,1135.65 309.4,1135.65" fill="#0a0a0a"/><polygon points="302.71,1148.44 294.46,1132.76 310.96,1132.76" fill="#0a0a0a"/><polygon points="304.58,1145.39 296.33,1129.71 312.83,1129.71" fill="#0a0a0a"/><polygon points="306.93,1142.31 298.68,1126.63 315.18,1126.63" fill="#0a0a0a"/><polygon points="309.76,1139.16 301.51,1123.49 318.01,1123.49" fill="#0a0a0a"/><polygon points="313.34,1136.28 305.09,1120.6 321.59,1120.6" fill="#0a0a0a"/><polygon points="317.39,1133.33 309.14,1117.66 325.64,1117.66" fill="#0a0a0a"/><polygon points="321.94,1130.33 313.69,1114.65 330.19,1114.65" fill="#0a0a0a"/><polygon points="327.02,1127.28 318.77,1111.6 335.27,1111.6" fill="#0a0a0a"/><polygon points="332.5,1123.88 324.25,1108.2 340.75,1108.2" fill="#0a0a0a"/><polygon points="338.44,1120.13 330.19,1104.46 346.69,1104.46" fill="#0a0a0a"/><polygon points="345.07,1116.34 336.82,1100.66 353.32,1100.66" fill="#0a0a0a"/><polygon points="352.5,1112.66 344.25,1096.99 360.75,1096.99" fill="#0a0a0a"/><polygon points="360.86,1109.24 352.61,1093.56 369.11,1093.56" fill="#0a0a0a"/><polygon points="369.96,1105.52 361.71,1089.84 378.21,1089.84" fill="#0a0a0a"/>
</g>
<rect x="251.5" y="677" width="657.5" height="488" fill="none" stroke="#0a0a0a" stroke-width="3.7"/>
<path d="M240.5 1165H251.5M245 1116.2H251.5M240.5 1067.4H251.5M245 1018.6H251.5M240.5 969.8H251.5M245 921H251.5M240.5 872.2H251.5M245 823.4H251.5M240.5 774.6H251.5M245 725.8H251.5M240.5 677H251.5M251.5 1165V1172M324.55 1165V1176.5M397.6 1165V1172M470.65 1165V1176.5M543.7 1165V1172M616.75 1165V1176.5M689.8 1165V1172M762.85 1165V1176.5M835.9 1165V1172M908.95 1165V1176.5" fill="none" stroke="#0a0a0a" stroke-width="3.3"/>
<text transform="translate(234 1176.7) scale(0.92 1)" font-size="36.5" fill="#111" text-anchor="end" font-weight="normal"  stroke="#111" stroke-width="0.6" stroke-linejoin="round">0</text>
<text transform="translate(234 1079.1) scale(0.92 1)" font-size="36.5" fill="#111" text-anchor="end" font-weight="normal"  stroke="#111" stroke-width="0.6" stroke-linejoin="round">20</text>
<text transform="translate(234 981.5) scale(0.92 1)" font-size="36.5" fill="#111" text-anchor="end" font-weight="normal"  stroke="#111" stroke-width="0.6" stroke-linejoin="round">40</text>
<text transform="translate(234 883.9) scale(0.92 1)" font-size="36.5" fill="#111" text-anchor="end" font-weight="normal"  stroke="#111" stroke-width="0.6" stroke-linejoin="round">60</text>
<text transform="translate(234 786.3) scale(0.92 1)" font-size="36.5" fill="#111" text-anchor="end" font-weight="normal"  stroke="#111" stroke-width="0.6" stroke-linejoin="round">80</text>
<text transform="translate(234 688.7) scale(0.92 1)" font-size="36.5" fill="#111" text-anchor="end" font-weight="normal"  stroke="#111" stroke-width="0.6" stroke-linejoin="round">100</text>
<text transform="translate(324.55 1210) scale(0.92 1)" font-size="36.5" fill="#111" text-anchor="middle" font-weight="normal"  stroke="#111" stroke-width="0.6" stroke-linejoin="round">20</text>
<text transform="translate(470.65 1210) scale(0.92 1)" font-size="36.5" fill="#111" text-anchor="middle" font-weight="normal"  stroke="#111" stroke-width="0.6" stroke-linejoin="round">40</text>
<text transform="translate(616.75 1210) scale(0.92 1)" font-size="36.5" fill="#111" text-anchor="middle" font-weight="normal"  stroke="#111" stroke-width="0.6" stroke-linejoin="round">60</text>
<text transform="translate(762.85 1210) scale(0.92 1)" font-size="36.5" fill="#111" text-anchor="middle" font-weight="normal"  stroke="#111" stroke-width="0.6" stroke-linejoin="round">80</text>
<text transform="translate(908.95 1210) scale(0.92 1)" font-size="36.5" fill="#111" text-anchor="middle" font-weight="normal"  stroke="#111" stroke-width="0.6" stroke-linejoin="round">100</text>
<text transform="translate(580.5 1271.5)" font-size="36" fill="#111" text-anchor="middle" font-weight="normal"  stroke="#111" stroke-width="0.6" stroke-linejoin="round">Z'(&#937;cm<tspan font-size="66%" dy="-0.7em">2</tspan><tspan dy="0.46em">&#8203;</tspan>)</text>
<text transform="translate(152.5 948) rotate(-90)" font-size="35" fill="#111" text-anchor="middle" font-weight="normal"  stroke="#111" stroke-width="0.6" stroke-linejoin="round">Z"(&#937;cm<tspan font-size="66%" dy="-0.7em">2</tspan><tspan dy="0.46em">&#8203;</tspan>)</text>
<text transform="translate(113.8 698.4) scale(0.93 1)" font-size="44" fill="#111" text-anchor="start" font-weight="normal"  stroke="#111" stroke-width="0.6" stroke-linejoin="round">(c)</text>
<text transform="translate(591 988)" font-size="33.5" fill="#111" text-anchor="start" font-weight="normal"  stroke="#111" stroke-width="0.6" stroke-linejoin="round">(d)</text>
<path d="M632 977H714" stroke="#ab0cf7" stroke-width="3" fill="none"/>
<rect x="666.75" y="970.25" width="13.5" height="13.5" fill="#ab0cf7"/>
<text transform="translate(724 988) scale(1.03 1)" font-size="33.5" fill="#111" text-anchor="start" font-weight="normal"  stroke="#111" stroke-width="0.6" stroke-linejoin="round">Ar:NH<tspan font-size="64%" dy="0.56em">3</tspan><tspan dy="-0.36em">&#8203;</tspan>=4:1</text>
<text transform="translate(591 1043)" font-size="33.5" fill="#111" text-anchor="start" font-weight="normal"  stroke="#111" stroke-width="0.6" stroke-linejoin="round">(c)</text>
<path d="M632 1031H714" stroke="#2a0cf0" stroke-width="3" fill="none"/>
<circle cx="673.5" cy="1031" r="7.5" fill="#2a0cf0"/>
<text transform="translate(724 1043) scale(1.03 1)" font-size="33.5" fill="#111" text-anchor="start" font-weight="normal"  stroke="#111" stroke-width="0.6" stroke-linejoin="round">Ar:H<tspan font-size="64%" dy="0.56em">2</tspan><tspan dy="-0.36em">&#8203;</tspan>=4:1</text>
<text transform="translate(591 1098)" font-size="33.5" fill="#111" text-anchor="start" font-weight="normal"  stroke="#111" stroke-width="0.6" stroke-linejoin="round">(b)</text>
<path d="M632 1084.5H714" stroke="#b02226" stroke-width="3" fill="none"/>
<polygon points="673.5,1075.41 665.25,1091.08 681.75,1091.08" fill="#b02226"/>
<text transform="translate(724 1098) scale(1.03 1)" font-size="33.5" fill="#111" text-anchor="start" font-weight="normal"  stroke="#111" stroke-width="0.6" stroke-linejoin="round">Ar</text>
<text transform="translate(591 1140)" font-size="33.5" fill="#111" text-anchor="start" font-weight="normal"  stroke="#111" stroke-width="0.6" stroke-linejoin="round">(a)</text>
<path d="M632 1128.5H714" stroke="#0a0a0a" stroke-width="3" fill="none"/>
<polygon points="673.5,1137.59 665.25,1121.92 681.75,1121.92" fill="#0a0a0a"/>
<text transform="translate(724 1140) scale(1.03 1)" font-size="33.5" fill="#111" text-anchor="start" font-weight="normal"  stroke="#111" stroke-width="0.6" stroke-linejoin="round">Untreated</text>
</g>
<g id="panelD" filter="url(#soft2)">
<clipPath id="clipD"><rect x="1158" y="674.5" width="645" height="476"/></clipPath>
<g clip-path="url(#clipD)">
<path d="M1158 873L1168.72 883.76L1179.44 895.66L1190.16 908.37L1200.88 921.05L1211.6 933.91L1222.32 946.98L1233.04 961.05L1243.76 972.77L1254.48 983.44L1265.2 992.32L1275.92 998.46L1286.64 1003L1297.36 1006.52L1308.08 1009.31L1318.8 1012.94L1329.52 1017.45L1340.24 1022.42L1350.96 1028.25L1361.68 1034.16L1372.4 1040.41L1383.12 1047.97L1393.84 1055.28L1404.56 1061.37L1415.28 1067.34L1426 1072.98L1436.72 1077.78L1447.44 1081.78L1458.16 1085.15L1468.88 1087.7L1479.6 1089.4L1490.32 1090.32L1501.04 1090.83L1511.76 1091.09L1522.48 1091.25L1533.2 1091.31L1543.92 1091.32L1554.64 1091.34L1565.36 1091.36L1576.08 1091.37L1586.8 1091.39L1597.52 1091.4L1608.24 1091.41L1618.96 1091.43L1629.68 1091.44L1640.4 1091.45L1651.12 1091.45L1661.84 1091.46L1672.56 1091.47L1683.28 1091.47L1694 1091.48L1704.72 1091.48L1715.44 1091.49L1726.16 1091.49L1736.88 1091.49L1747.6 1091.5L1758.32 1091.5L1769.04 1091.5L1779.76 1091.5L1790.48 1091.5" fill="none" stroke="#2a0cf0" stroke-width="3"/>
<circle cx="1158" cy="873" r="7.25" fill="#2a0cf0"/><circle cx="1168.72" cy="883.76" r="7.25" fill="#2a0cf0"/><circle cx="1179.44" cy="895.66" r="7.25" fill="#2a0cf0"/><circle cx="1190.16" cy="908.37" r="7.25" fill="#2a0cf0"/><circle cx="1200.88" cy="921.05" r="7.25" fill="#2a0cf0"/><circle cx="1211.6" cy="933.91" r="7.25" fill="#2a0cf0"/><circle cx="1222.32" cy="946.98" r="7.25" fill="#2a0cf0"/><circle cx="1233.04" cy="961.05" r="7.25" fill="#2a0cf0"/><circle cx="1243.76" cy="972.77" r="7.25" fill="#2a0cf0"/><circle cx="1254.48" cy="983.44" r="7.25" fill="#2a0cf0"/><circle cx="1265.2" cy="992.32" r="7.25" fill="#2a0cf0"/><circle cx="1275.92" cy="998.46" r="7.25" fill="#2a0cf0"/><circle cx="1286.64" cy="1003" r="7.25" fill="#2a0cf0"/><circle cx="1297.36" cy="1006.52" r="7.25" fill="#2a0cf0"/><circle cx="1308.08" cy="1009.31" r="7.25" fill="#2a0cf0"/><circle cx="1318.8" cy="1012.94" r="7.25" fill="#2a0cf0"/><circle cx="1329.52" cy="1017.45" r="7.25" fill="#2a0cf0"/><circle cx="1340.24" cy="1022.42" r="7.25" fill="#2a0cf0"/><circle cx="1350.96" cy="1028.25" r="7.25" fill="#2a0cf0"/><circle cx="1361.68" cy="1034.16" r="7.25" fill="#2a0cf0"/><circle cx="1372.4" cy="1040.41" r="7.25" fill="#2a0cf0"/><circle cx="1383.12" cy="1047.97" r="7.25" fill="#2a0cf0"/><circle cx="1393.84" cy="1055.28" r="7.25" fill="#2a0cf0"/><circle cx="1404.56" cy="1061.37" r="7.25" fill="#2a0cf0"/><circle cx="1415.28" cy="1067.34" r="7.25" fill="#2a0cf0"/><circle cx="1426" cy="1072.98" r="7.25" fill="#2a0cf0"/><circle cx="1436.72" cy="1077.78" r="7.25" fill="#2a0cf0"/><circle cx="1447.44" cy="1081.78" r="7.25" fill="#2a0cf0"/><circle cx="1458.16" cy="1085.15" r="7.25" fill="#2a0cf0"/><circle cx="1468.88" cy="1087.7" r="7.25" fill="#2a0cf0"/><circle cx="1479.6" cy="1089.4" r="7.25" fill="#2a0cf0"/><circle cx="1490.32" cy="1090.32" r="7.25" fill="#2a0cf0"/><circle cx="1501.04" cy="1090.83" r="7.25" fill="#2a0cf0"/><circle cx="1511.76" cy="1091.09" r="7.25" fill="#2a0cf0"/><circle cx="1522.48" cy="1091.25" r="7.25" fill="#2a0cf0"/><circle cx="1533.2" cy="1091.31" r="7.25" fill="#2a0cf0"/><circle cx="1543.92" cy="1091.32" r="7.25" fill="#2a0cf0"/><circle cx="1554.64" cy="1091.34" r="7.25" fill="#2a0cf0"/><circle cx="1565.36" cy="1091.36" r="7.25" fill="#2a0cf0"/><circle cx="1576.08" cy="1091.37" r="7.25" fill="#2a0cf0"/><circle cx="1586.8" cy="1091.39" r="7.25" fill="#2a0cf0"/><circle cx="1597.52" cy="1091.4" r="7.25" fill="#2a0cf0"/><circle cx="1608.24" cy="1091.41" r="7.25" fill="#2a0cf0"/><circle cx="1618.96" cy="1091.43" r="7.25" fill="#2a0cf0"/><circle cx="1629.68" cy="1091.44" r="7.25" fill="#2a0cf0"/><circle cx="1640.4" cy="1091.45" r="7.25" fill="#2a0cf0"/><circle cx="1651.12" cy="1091.45" r="7.25" fill="#2a0cf0"/><circle cx="1661.84" cy="1091.46" r="7.25" fill="#2a0cf0"/><circle cx="1672.56" cy="1091.47" r="7.25" fill="#2a0cf0"/><circle cx="1683.28" cy="1091.47" r="7.25" fill="#2a0cf0"/><circle cx="1694" cy="1091.48" r="7.25" fill="#2a0cf0"/><circle cx="1704.72" cy="1091.48" r="7.25" fill="#2a0cf0"/><circle cx="1715.44" cy="1091.49" r="7.25" fill="#2a0cf0"/><circle cx="1726.16" cy="1091.49" r="7.25" fill="#2a0cf0"/><circle cx="1736.88" cy="1091.49" r="7.25" fill="#2a0cf0"/><circle cx="1747.6" cy="1091.5" r="7.25" fill="#2a0cf0"/><circle cx="1758.32" cy="1091.5" r="7.25" fill="#2a0cf0"/><circle cx="1769.04" cy="1091.5" r="7.25" fill="#2a0cf0"/><circle cx="1779.76" cy="1091.5" r="7.25" fill="#2a0cf0"/><circle cx="1790.48" cy="1091.5" r="7.25" fill="#2a0cf0"/>
<path d="M1158 734.43L1168.72 745.25L1179.44 759.01L1190.16 773.67L1200.88 789.34L1211.6 806.83L1222.32 823.75L1233.04 839.7L1243.76 857.06L1254.48 873.87L1265.2 886.64L1275.92 900.77L1286.64 913.41L1297.36 923.92L1308.08 932.55L1318.8 941.79L1329.52 948.54L1340.24 955.84L1350.96 962.46L1361.68 970.85L1372.4 979.83L1383.12 989.49L1393.84 1000.34L1404.56 1010.97L1415.28 1022L1426 1032.63L1436.72 1041.42L1447.44 1048.96L1458.16 1054.89L1468.88 1060.01L1479.6 1063.8L1490.32 1066.55L1501.04 1068.69L1511.76 1070.36L1522.48 1071.49L1533.2 1072.18L1543.92 1072.6L1554.64 1072.6L1565.36 1072.6L1576.08 1072.6L1586.8 1072.6L1597.52 1072.6L1608.24 1072.6L1618.96 1072.6L1629.68 1072.6L1640.4 1072.6L1651.12 1072.6L1661.84 1072.6L1672.56 1072.6L1683.28 1072.6L1694 1072.6L1704.72 1072.6L1715.44 1072.6L1726.16 1072.6L1736.88 1072.6L1747.6 1072.6L1758.32 1072.6L1769.04 1072.6L1779.76 1072.6L1790.48 1072.6" fill="none" stroke="#ab0cf7" stroke-width="3"/>
<rect x="1150.6" y="727.03" width="14.8" height="14.8" fill="#ab0cf7"/><rect x="1161.32" y="737.85" width="14.8" height="14.8" fill="#ab0cf7"/><rect x="1172.04" y="751.61" width="14.8" height="14.8" fill="#ab0cf7"/><rect x="1182.76" y="766.27" width="14.8" height="14.8" fill="#ab0cf7"/><rect x="1193.48" y="781.94" width="14.8" height="14.8" fill="#ab0cf7"/><rect x="1204.2" y="799.43" width="14.8" height="14.8" fill="#ab0cf7"/><rect x="1214.92" y="816.35" width="14.8" height="14.8" fill="#ab0cf7"/><rect x="1225.64" y="832.3" width="14.8" height="14.8" fill="#ab0cf7"/><rect x="1236.36" y="849.66" width="14.8" height="14.8" fill="#ab0cf7"/><rect x="1247.08" y="866.47" width="14.8" height="14.8" fill="#ab0cf7"/><rect x="1257.8" y="879.24" width="14.8" height="14.8" fill="#ab0cf7"/><rect x="1268.52" y="893.37" width="14.8" height="14.8" fill="#ab0cf7"/><rect x="1279.24" y="906.01" width="14.8" height="14.8" fill="#ab0cf7"/><rect x="1289.96" y="916.52" width="14.8" height="14.8" fill="#ab0cf7"/><rect x="1300.68" y="925.15" width="14.8" height="14.8" fill="#ab0cf7"/><rect x="1311.4" y="934.39" width="14.8" height="14.8" fill="#ab0cf7"/><rect x="1322.12" y="941.14" width="14.8" height="14.8" fill="#ab0cf7"/><rect x="1332.84" y="948.44" width="14.8" height="14.8" fill="#ab0cf7"/><rect x="1343.56" y="955.06" width="14.8" height="14.8" fill="#ab0cf7"/><rect x="1354.28" y="963.45" width="14.8" height="14.8" fill="#ab0cf7"/><rect x="1365" y="972.43" width="14.8" height="14.8" fill="#ab0cf7"/><rect x="1375.72" y="982.09" width="14.8" height="14.8" fill="#ab0cf7"/><rect x="1386.44" y="992.94" width="14.8" height="14.8" fill="#ab0cf7"/><rect x="1397.16" y="1003.57" width="14.8" height="14.8" fill="#ab0cf7"/><rect x="1407.88" y="1014.6" width="14.8" height="14.8" fill="#ab0cf7"/><rect x="1418.6" y="1025.23" width="14.8" height="14.8" fill="#ab0cf7"/><rect x="1429.32" y="1034.02" width="14.8" height="14.8" fill="#ab0cf7"/><rect x="1440.04" y="1041.56" width="14.8" height="14.8" fill="#ab0cf7"/><rect x="1450.76" y="1047.49" width="14.8" height="14.8" fill="#ab0cf7"/><rect x="1461.48" y="1052.61" width="14.8" height="14.8" fill="#ab0cf7"/><rect x="1472.2" y="1056.4" width="14.8" height="14.8" fill="#ab0cf7"/><rect x="1482.92" y="1059.15" width="14.8" height="14.8" fill="#ab0cf7"/><rect x="1493.64" y="1061.29" width="14.8" height="14.8" fill="#ab0cf7"/><rect x="1504.36" y="1062.96" width="14.8" height="14.8" fill="#ab0cf7"/><rect x="1515.08" y="1064.09" width="14.8" height="14.8" fill="#ab0cf7"/><rect x="1525.8" y="1064.78" width="14.8" height="14.8" fill="#ab0cf7"/><rect x="1536.52" y="1065.2" width="14.8" height="14.8" fill="#ab0cf7"/><rect x="1547.24" y="1065.2" width="14.8" height="14.8" fill="#ab0cf7"/><rect x="1557.96" y="1065.2" width="14.8" height="14.8" fill="#ab0cf7"/><rect x="1568.68" y="1065.2" width="14.8" height="14.8" fill="#ab0cf7"/><rect x="1579.4" y="1065.2" width="14.8" height="14.8" fill="#ab0cf7"/><rect x="1590.12" y="1065.2" width="14.8" height="14.8" fill="#ab0cf7"/><rect x="1600.84" y="1065.2" width="14.8" height="14.8" fill="#ab0cf7"/><rect x="1611.56" y="1065.2" width="14.8" height="14.8" fill="#ab0cf7"/><rect x="1622.28" y="1065.2" width="14.8" height="14.8" fill="#ab0cf7"/><rect x="1633" y="1065.2" width="14.8" height="14.8" fill="#ab0cf7"/><rect x="1643.72" y="1065.2" width="14.8" height="14.8" fill="#ab0cf7"/><rect x="1654.44" y="1065.2" width="14.8" height="14.8" fill="#ab0cf7"/><rect x="1665.16" y="1065.2" width="14.8" height="14.8" fill="#ab0cf7"/><rect x="1675.88" y="1065.2" width="14.8" height="14.8" fill="#ab0cf7"/><rect x="1686.6" y="1065.2" width="14.8" height="14.8" fill="#ab0cf7"/><rect x="1697.32" y="1065.2" width="14.8" height="14.8" fill="#ab0cf7"/><rect x="1708.04" y="1065.2" width="14.8" height="14.8" fill="#ab0cf7"/><rect x="1718.76" y="1065.2" width="14.8" height="14.8" fill="#ab0cf7"/><rect x="1729.48" y="1065.2" width="14.8" height="14.8" fill="#ab0cf7"/><rect x="1740.2" y="1065.2" width="14.8" height="14.8" fill="#ab0cf7"/><rect x="1750.92" y="1065.2" width="14.8" height="14.8" fill="#ab0cf7"/><rect x="1761.64" y="1065.2" width="14.8" height="14.8" fill="#ab0cf7"/><rect x="1772.36" y="1065.2" width="14.8" height="14.8" fill="#ab0cf7"/><rect x="1783.08" y="1065.2" width="14.8" height="14.8" fill="#ab0cf7"/>
<path d="M1158 752L1168.72 764.38L1179.44 779.19L1190.16 795.24L1200.88 810.82L1211.6 827.92L1222.32 844.01L1233.04 861.6L1243.76 877.06L1254.48 891.72L1265.2 909.02L1275.92 923.42L1286.64 937.05L1297.36 948.34L1308.08 957.33L1318.8 965.27L1329.52 972.61L1340.24 979.53L1350.96 987.38L1361.68 994.82L1372.4 1002.85L1383.12 1010.81L1393.84 1019.71L1404.56 1029.43L1415.28 1039.68L1426 1050.49L1436.72 1060.62L1447.44 1068.92L1458.16 1075.08L1468.88 1079.83L1479.6 1083.05L1490.32 1085.3L1501.04 1086.97L1511.76 1088.1L1522.48 1088.59L1533.2 1089L1543.92 1089.2L1554.64 1089.21L1565.36 1089.22L1576.08 1089.23L1586.8 1089.24L1597.52 1089.25L1608.24 1089.25L1618.96 1089.26L1629.68 1089.27L1640.4 1089.27L1651.12 1089.28L1661.84 1089.28L1672.56 1089.28L1683.28 1089.29L1694 1089.29L1704.72 1089.29L1715.44 1089.29L1726.16 1089.3L1736.88 1089.3L1747.6 1089.3L1758.32 1089.3L1769.04 1089.3L1779.76 1089.3L1790.48 1089.3" fill="none" stroke="#b02226" stroke-width="3"/>
<polygon points="1158,742.91 1149.75,758.58 1166.25,758.58" fill="#b02226"/><polygon points="1168.72,755.29 1160.47,770.96 1176.97,770.96" fill="#b02226"/><polygon points="1179.44,770.1 1171.19,785.77 1187.69,785.77" fill="#b02226"/><polygon points="1190.16,786.14 1181.91,801.82 1198.41,801.82" fill="#b02226"/><polygon points="1200.88,801.73 1192.63,817.4 1209.13,817.4" fill="#b02226"/><polygon points="1211.6,818.83 1203.35,834.51 1219.85,834.51" fill="#b02226"/><polygon points="1222.32,834.91 1214.07,850.59 1230.57,850.59" fill="#b02226"/><polygon points="1233.04,852.5 1224.79,868.18 1241.29,868.18" fill="#b02226"/><polygon points="1243.76,867.97 1235.51,883.64 1252.01,883.64" fill="#b02226"/><polygon points="1254.48,882.63 1246.23,898.3 1262.73,898.3" fill="#b02226"/><polygon points="1265.2,899.93 1256.95,915.61 1273.45,915.61" fill="#b02226"/><polygon points="1275.92,914.33 1267.67,930 1284.17,930" fill="#b02226"/><polygon points="1286.64,927.95 1278.39,943.63 1294.89,943.63" fill="#b02226"/><polygon points="1297.36,939.24 1289.11,954.92 1305.61,954.92" fill="#b02226"/><polygon points="1308.08,948.24 1299.83,963.91 1316.33,963.91" fill="#b02226"/><polygon points="1318.8,956.18 1310.55,971.85 1327.05,971.85" fill="#b02226"/><polygon points="1329.52,963.52 1321.27,979.2 1337.77,979.2" fill="#b02226"/><polygon points="1340.24,970.44 1331.99,986.11 1348.49,986.11" fill="#b02226"/><polygon points="1350.96,978.29 1342.71,993.97 1359.21,993.97" fill="#b02226"/><polygon points="1361.68,985.73 1353.43,1001.4 1369.93,1001.4" fill="#b02226"/><polygon points="1372.4,993.76 1364.15,1009.43 1380.65,1009.43" fill="#b02226"/><polygon points="1383.12,1001.72 1374.87,1017.39 1391.37,1017.39" fill="#b02226"/><polygon points="1393.84,1010.62 1385.59,1026.29 1402.09,1026.29" fill="#b02226"/><polygon points="1404.56,1020.34 1396.31,1036.01 1412.81,1036.01" fill="#b02226"/><polygon points="1415.28,1030.59 1407.03,1046.26 1423.53,1046.26" fill="#b02226"/><polygon points="1426,1041.4 1417.75,1057.07 1434.25,1057.07" fill="#b02226"/><polygon points="1436.72,1051.53 1428.47,1067.2 1444.97,1067.2" fill="#b02226"/><polygon points="1447.44,1059.83 1439.19,1075.51 1455.69,1075.51" fill="#b02226"/><polygon points="1458.16,1065.99 1449.91,1081.66 1466.41,1081.66" fill="#b02226"/><polygon points="1468.88,1070.74 1460.63,1086.41 1477.13,1086.41" fill="#b02226"/><polygon points="1479.6,1073.96 1471.35,1089.63 1487.85,1089.63" fill="#b02226"/><polygon points="1490.32,1076.21 1482.07,1091.89 1498.57,1091.89" fill="#b02226"/><polygon points="1501.04,1077.88 1492.79,1093.55 1509.29,1093.55" fill="#b02226"/><polygon points="1511.76,1079.01 1503.51,1094.68 1520.01,1094.68" fill="#b02226"/><polygon points="1522.48,1079.5 1514.23,1095.17 1530.73,1095.17" fill="#b02226"/><polygon points="1533.2,1079.91 1524.95,1095.58 1541.45,1095.58" fill="#b02226"/><polygon points="1543.92,1080.11 1535.67,1095.78 1552.17,1095.78" fill="#b02226"/><polygon points="1554.64,1080.12 1546.39,1095.79 1562.89,1095.79" fill="#b02226"/><polygon points="1565.36,1080.13 1557.11,1095.8 1573.61,1095.8" fill="#b02226"/><polygon points="1576.08,1080.14 1567.83,1095.81 1584.33,1095.81" fill="#b02226"/><polygon points="1586.8,1080.15 1578.55,1095.82 1595.05,1095.82" fill="#b02226"/><polygon points="1597.52,1080.16 1589.27,1095.83 1605.77,1095.83" fill="#b02226"/><polygon points="1608.24,1080.16 1599.99,1095.84 1616.49,1095.84" fill="#b02226"/><polygon points="1618.96,1080.17 1610.71,1095.84 1627.21,1095.84" fill="#b02226"/><polygon points="1629.68,1080.18 1621.43,1095.85 1637.93,1095.85" fill="#b02226"/><polygon points="1640.4,1080.18 1632.15,1095.86 1648.65,1095.86" fill="#b02226"/><polygon points="1651.12,1080.19 1642.87,1095.86 1659.37,1095.86" fill="#b02226"/><polygon points="1661.84,1080.19 1653.59,1095.86 1670.09,1095.86" fill="#b02226"/><polygon points="1672.56,1080.19 1664.31,1095.87 1680.81,1095.87" fill="#b02226"/><polygon points="1683.28,1080.2 1675.03,1095.87 1691.53,1095.87" fill="#b02226"/><polygon points="1694,1080.2 1685.75,1095.87 1702.25,1095.87" fill="#b02226"/><polygon points="1704.72,1080.2 1696.47,1095.88 1712.97,1095.88" fill="#b02226"/><polygon points="1715.44,1080.2 1707.19,1095.88 1723.69,1095.88" fill="#b02226"/><polygon points="1726.16,1080.2 1717.91,1095.88 1734.41,1095.88" fill="#b02226"/><polygon points="1736.88,1080.21 1728.63,1095.88 1745.13,1095.88" fill="#b02226"/><polygon points="1747.6,1080.21 1739.35,1095.88 1755.85,1095.88" fill="#b02226"/><polygon points="1758.32,1080.21 1750.07,1095.88 1766.57,1095.88" fill="#b02226"/><polygon points="1769.04,1080.21 1760.79,1095.88 1777.29,1095.88" fill="#b02226"/><polygon points="1779.76,1080.21 1771.51,1095.88 1788.01,1095.88" fill="#b02226"/><polygon points="1790.48,1080.21 1782.23,1095.88 1798.73,1095.88" fill="#b02226"/>
<path d="M1158 863.04L1168.72 871.52L1179.44 879.38L1190.16 891.44L1200.88 903.74L1211.6 917.72L1222.32 931.65L1233.04 945.1L1243.76 958.16L1254.48 971.48L1265.2 981.91L1275.92 991.6L1286.64 999.88L1297.36 1007.34L1308.08 1013.49L1318.8 1018.35L1329.52 1023.44L1340.24 1027.72L1350.96 1032.22L1361.68 1038.09L1372.4 1044.32L1383.12 1050.5L1393.84 1056.96L1404.56 1065.28L1415.28 1072.66L1426 1079.66L1436.72 1085.78L1447.44 1089.42L1458.16 1092.9L1468.88 1095.63L1479.6 1097.75L1490.32 1099.4L1501.04 1100.52L1511.76 1101L1522.48 1101.61L1533.2 1102.1L1543.92 1102.5L1554.64 1102.5L1565.36 1102.5L1576.08 1102.5L1586.8 1102.5L1597.52 1102.5L1608.24 1102.5L1618.96 1102.5L1629.68 1102.5L1640.4 1102.5L1651.12 1102.5L1661.84 1102.5L1672.56 1102.5L1683.28 1102.5L1694 1102.5L1704.72 1102.5L1715.44 1102.5L1726.16 1102.5L1736.88 1102.5L1747.6 1102.5L1758.32 1102.5L1769.04 1102.5L1779.76 1102.5L1790.48 1102.5" fill="none" stroke="#0a0a0a" stroke-width="3"/>
<polygon points="1158,872.13 1149.75,856.45 1166.25,856.45" fill="#0a0a0a"/><polygon points="1168.72,880.61 1160.47,864.93 1176.97,864.93" fill="#0a0a0a"/><polygon points="1179.44,888.47 1171.19,872.8 1187.69,872.8" fill="#0a0a0a"/><polygon points="1190.16,900.53 1181.91,884.85 1198.41,884.85" fill="#0a0a0a"/><polygon points="1200.88,912.83 1192.63,897.16 1209.13,897.16" fill="#0a0a0a"/><polygon points="1211.6,926.81 1203.35,911.14 1219.85,911.14" fill="#0a0a0a"/><polygon points="1222.32,940.74 1214.07,925.07 1230.57,925.07" fill="#0a0a0a"/><polygon points="1233.04,954.19 1224.79,938.52 1241.29,938.52" fill="#0a0a0a"/><polygon points="1243.76,967.25 1235.51,951.58 1252.01,951.58" fill="#0a0a0a"/><polygon points="1254.48,980.57 1246.23,964.89 1262.73,964.89" fill="#0a0a0a"/><polygon points="1265.2,991 1256.95,975.32 1273.45,975.32" fill="#0a0a0a"/><polygon points="1275.92,1000.69 1267.67,985.02 1284.17,985.02" fill="#0a0a0a"/><polygon points="1286.64,1008.97 1278.39,993.3 1294.89,993.3" fill="#0a0a0a"/><polygon points="1297.36,1016.43 1289.11,1000.75 1305.61,1000.75" fill="#0a0a0a"/><polygon points="1308.08,1022.58 1299.83,1006.91 1316.33,1006.91" fill="#0a0a0a"/><polygon points="1318.8,1027.44 1310.55,1011.76 1327.05,1011.76" fill="#0a0a0a"/><polygon points="1329.52,1032.53 1321.27,1016.85 1337.77,1016.85" fill="#0a0a0a"/><polygon points="1340.24,1036.81 1331.99,1021.13 1348.49,1021.13" fill="#0a0a0a"/><polygon points="1350.96,1041.32 1342.71,1025.64 1359.21,1025.64" fill="#0a0a0a"/><polygon points="1361.68,1047.18 1353.43,1031.51 1369.93,1031.51" fill="#0a0a0a"/><polygon points="1372.4,1053.41 1364.15,1037.73 1380.65,1037.73" fill="#0a0a0a"/><polygon points="1383.12,1059.6 1374.87,1043.92 1391.37,1043.92" fill="#0a0a0a"/><polygon points="1393.84,1066.06 1385.59,1050.38 1402.09,1050.38" fill="#0a0a0a"/><polygon points="1404.56,1074.37 1396.31,1058.7 1412.81,1058.7" fill="#0a0a0a"/><polygon points="1415.28,1081.75 1407.03,1066.08 1423.53,1066.08" fill="#0a0a0a"/><polygon points="1426,1088.75 1417.75,1073.08 1434.25,1073.08" fill="#0a0a0a"/><polygon points="1436.72,1094.87 1428.47,1079.19 1444.97,1079.19" fill="#0a0a0a"/><polygon points="1447.44,1098.51 1439.19,1082.83 1455.69,1082.83" fill="#0a0a0a"/><polygon points="1458.16,1101.99 1449.91,1086.32 1466.41,1086.32" fill="#0a0a0a"/><polygon points="1468.88,1104.72 1460.63,1089.05 1477.13,1089.05" fill="#0a0a0a"/><polygon points="1479.6,1106.84 1471.35,1091.17 1487.85,1091.17" fill="#0a0a0a"/><polygon points="1490.32,1108.49 1482.07,1092.82 1498.57,1092.82" fill="#0a0a0a"/><polygon points="1501.04,1109.61 1492.79,1093.93 1509.29,1093.93" fill="#0a0a0a"/><polygon points="1511.76,1110.09 1503.51,1094.41 1520.01,1094.41" fill="#0a0a0a"/><polygon points="1522.48,1110.71 1514.23,1095.03 1530.73,1095.03" fill="#0a0a0a"/><polygon points="1533.2,1111.19 1524.95,1095.51 1541.45,1095.51" fill="#0a0a0a"/><polygon points="1543.92,1111.59 1535.67,1095.92 1552.17,1095.92" fill="#0a0a0a"/><polygon points="1554.64,1111.59 1546.39,1095.92 1562.89,1095.92" fill="#0a0a0a"/><polygon points="1565.36,1111.59 1557.11,1095.92 1573.61,1095.92" fill="#0a0a0a"/><polygon points="1576.08,1111.59 1567.83,1095.92 1584.33,1095.92" fill="#0a0a0a"/><polygon points="1586.8,1111.59 1578.55,1095.92 1595.05,1095.92" fill="#0a0a0a"/><polygon points="1597.52,1111.59 1589.27,1095.92 1605.77,1095.92" fill="#0a0a0a"/><polygon points="1608.24,1111.59 1599.99,1095.92 1616.49,1095.92" fill="#0a0a0a"/><polygon points="1618.96,1111.59 1610.71,1095.92 1627.21,1095.92" fill="#0a0a0a"/><polygon points="1629.68,1111.59 1621.43,1095.92 1637.93,1095.92" fill="#0a0a0a"/><polygon points="1640.4,1111.59 1632.15,1095.92 1648.65,1095.92" fill="#0a0a0a"/><polygon points="1651.12,1111.59 1642.87,1095.92 1659.37,1095.92" fill="#0a0a0a"/><polygon points="1661.84,1111.59 1653.59,1095.92 1670.09,1095.92" fill="#0a0a0a"/><polygon points="1672.56,1111.59 1664.31,1095.92 1680.81,1095.92" fill="#0a0a0a"/><polygon points="1683.28,1111.59 1675.03,1095.92 1691.53,1095.92" fill="#0a0a0a"/><polygon points="1694,1111.59 1685.75,1095.92 1702.25,1095.92" fill="#0a0a0a"/><polygon points="1704.72,1111.59 1696.47,1095.92 1712.97,1095.92" fill="#0a0a0a"/><polygon points="1715.44,1111.59 1707.19,1095.92 1723.69,1095.92" fill="#0a0a0a"/><polygon points="1726.16,1111.59 1717.91,1095.92 1734.41,1095.92" fill="#0a0a0a"/><polygon points="1736.88,1111.59 1728.63,1095.92 1745.13,1095.92" fill="#0a0a0a"/><polygon points="1747.6,1111.59 1739.35,1095.92 1755.85,1095.92" fill="#0a0a0a"/><polygon points="1758.32,1111.59 1750.07,1095.92 1766.57,1095.92" fill="#0a0a0a"/><polygon points="1769.04,1111.59 1760.79,1095.92 1777.29,1095.92" fill="#0a0a0a"/><polygon points="1779.76,1111.59 1771.51,1095.92 1788.01,1095.92" fill="#0a0a0a"/><polygon points="1790.48,1111.59 1782.23,1095.92 1798.73,1095.92" fill="#0a0a0a"/>
</g>
<rect x="1158" y="674.5" width="643" height="476" fill="none" stroke="#0a0a0a" stroke-width="3.7"/>
<path d="M1147.5 1150.5H1158M1152.5 1078.85H1158M1152.5 1036.95H1158M1152.5 1007.21H1158M1152.5 984.15H1158M1152.5 965.3H1158M1152.5 949.37H1158M1152.5 935.56H1158M1152.5 923.39H1158M1147.5 912.5H1158M1152.5 840.85H1158M1152.5 798.95H1158M1152.5 769.21H1158M1152.5 746.15H1158M1152.5 727.3H1158M1152.5 711.37H1158M1152.5 697.56H1158M1152.5 685.39H1158M1147.5 674.5H1158M1158 1150.5V1160.5M1196.71 1150.5V1156M1219.36 1150.5V1156M1235.42 1150.5V1156M1247.89 1150.5V1156M1258.07 1150.5V1156M1266.68 1150.5V1156M1274.14 1150.5V1156M1280.72 1150.5V1156M1286.6 1150.5V1160.5M1325.31 1150.5V1156M1347.96 1150.5V1156M1364.02 1150.5V1156M1376.49 1150.5V1156M1386.67 1150.5V1156M1395.28 1150.5V1156M1402.74 1150.5V1156M1409.32 1150.5V1156M1415.2 1150.5V1160.5M1453.91 1150.5V1156M1476.56 1150.5V1156M1492.62 1150.5V1156M1505.09 1150.5V1156M1515.27 1150.5V1156M1523.88 1150.5V1156M1531.34 1150.5V1156M1537.92 1150.5V1156M1543.8 1150.5V1160.5M1582.51 1150.5V1156M1605.16 1150.5V1156M1621.22 1150.5V1156M1633.69 1150.5V1156M1643.87 1150.5V1156M1652.48 1150.5V1156M1659.94 1150.5V1156M1666.52 1150.5V1156M1672.4 1150.5V1160.5M1711.11 1150.5V1156M1733.76 1150.5V1156M1749.82 1150.5V1156M1762.29 1150.5V1156M1772.47 1150.5V1156M1781.08 1150.5V1156M1788.54 1150.5V1156M1795.12 1150.5V1156M1801 1150.5V1160.5" fill="none" stroke="#0a0a0a" stroke-width="3"/>
<text transform="translate(1141.5 1162) scale(0.92 1)" font-size="36.5" fill="#111" text-anchor="end" font-weight="normal"  stroke="#111" stroke-width="0.6" stroke-linejoin="round">10</text>
<text transform="translate(1141.5 924) scale(0.92 1)" font-size="36.5" fill="#111" text-anchor="end" font-weight="normal"  stroke="#111" stroke-width="0.6" stroke-linejoin="round">100</text>
<text transform="translate(1141.5 686) scale(0.92 1)" font-size="36.5" fill="#111" text-anchor="end" font-weight="normal"  stroke="#111" stroke-width="0.6" stroke-linejoin="round">1000</text>
<text transform="translate(1158 1193.5) scale(0.92 1)" font-size="36.5" fill="#111" text-anchor="middle" font-weight="normal"  stroke="#111" stroke-width="0.6" stroke-linejoin="round">1</text>
<text transform="translate(1286.6 1193.5) scale(0.92 1)" font-size="36.5" fill="#111" text-anchor="middle" font-weight="normal"  stroke="#111" stroke-width="0.6" stroke-linejoin="round">10</text>
<text transform="translate(1415.2 1193.5) scale(0.92 1)" font-size="36.5" fill="#111" text-anchor="middle" font-weight="normal"  stroke="#111" stroke-width="0.6" stroke-linejoin="round">100</text>
<text transform="translate(1543.8 1193.5) scale(0.92 1)" font-size="36.5" fill="#111" text-anchor="middle" font-weight="normal"  stroke="#111" stroke-width="0.6" stroke-linejoin="round">1000</text>
<text transform="translate(1672.4 1193.5) scale(0.92 1)" font-size="36.5" fill="#111" text-anchor="middle" font-weight="normal"  stroke="#111" stroke-width="0.6" stroke-linejoin="round">10000</text>
<text transform="translate(1801 1193.5) scale(0.92 1)" font-size="36.5" fill="#111" text-anchor="middle" font-weight="normal"  stroke="#111" stroke-width="0.6" stroke-linejoin="round">100000</text>
<text transform="translate(1480 1249)" font-size="34" fill="#111" text-anchor="middle" font-weight="normal"  stroke="#111" stroke-width="0.6" stroke-linejoin="round">Frequency(Hz)</text>
<text transform="translate(1043.5 937) rotate(-90)" font-size="34" fill="#111" text-anchor="middle" font-weight="normal"  stroke="#111" stroke-width="0.6" stroke-linejoin="round">|Z|(&#937;cm<tspan font-size="66%" dy="-0.7em">2</tspan><tspan dy="0.46em">&#8203;</tspan>)</text>
<text transform="translate(996.6 694.5) scale(0.95 1)" font-size="43" fill="#111" text-anchor="start" font-weight="normal"  stroke="#111" stroke-width="0.6" stroke-linejoin="round">(d)</text>
<path d="M1271 800H1317M1390 800H1436M1436 735V864.6M1436 735H1471.8M1495 735H1743.8V864.6H1720M1743.8 799.8H1792.5M1436 864.6H1471.8M1566.8 864.6H1614.3M1614.3 829.6V900.2M1614.3 829.6H1656M1679 829.6H1720V900.2H1709.3M1614.3 900.2H1637M1471.8 717.8V754.5M1495 717.8V754.5M1656 810.6V846.2M1679 810.6V846.2" fill="none" stroke="#0d0d0d" stroke-width="3" stroke-linecap="square"/>
<rect x="1317" y="787" width="73" height="26" fill="#fff" stroke="#0d0d0d" stroke-width="3"/>
<rect x="1471.8" y="852.7" width="95" height="23.7" fill="#fff" stroke="#0d0d0d" stroke-width="3"/>
<rect x="1637" y="888.3" width="72.3" height="24.4" fill="#fff" stroke="#0d0d0d" stroke-width="3"/>
<text transform="translate(1337 775)" font-size="23" fill="#111" text-anchor="start" font-weight="bold"  stroke="#111" stroke-width="0.6" stroke-linejoin="round">R<tspan font-size="66%" dy="0.45em">S</tspan><tspan dy="-0.3em">&#8203;</tspan></text>
<text transform="translate(1456.5 703.5)" font-size="22.5" fill="#111" text-anchor="start" font-weight="bold"  stroke="#111" stroke-width="0.6" stroke-linejoin="round">CPE<tspan font-size="66%" dy="0.58em">c</tspan><tspan dy="-0.38em">&#8203;</tspan></text>
<text transform="translate(1633.5 807.5)" font-size="22.5" fill="#111" text-anchor="start" font-weight="bold"  stroke="#111" stroke-width="0.6" stroke-linejoin="round">CPE<tspan font-size="66%" dy="0.58em">dl</tspan><tspan dy="-0.38em">&#8203;</tspan></text>
<text transform="translate(1495.5 911)" font-size="23" fill="#111" text-anchor="start" font-weight="bold"  stroke="#111" stroke-width="0.6" stroke-linejoin="round">R<tspan font-size="66%" dy="0.55em">c</tspan><tspan dy="-0.36em">&#8203;</tspan></text>
<text transform="translate(1655.5 936.5)" font-size="23" fill="#111" text-anchor="start" font-weight="bold"  stroke="#111" stroke-width="0.6" stroke-linejoin="round">R<tspan font-size="66%" dy="0.55em">ct</tspan><tspan dy="-0.36em">&#8203;</tspan></text>
</g>
</svg></body></html>
